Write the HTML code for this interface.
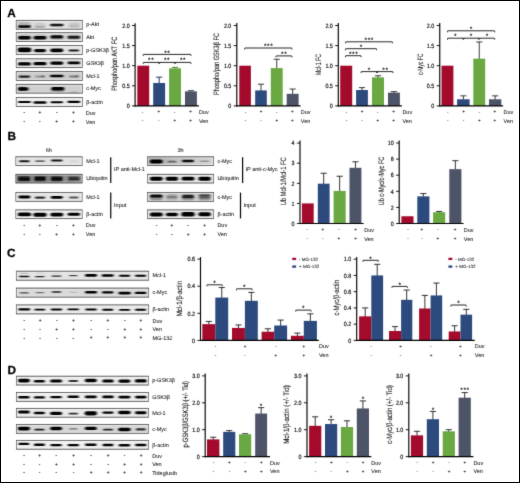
<!DOCTYPE html>
<html><head><meta charset="utf-8"><title>Figure</title>
<style>
html,body{margin:0;padding:0;background:#fff;}
body{width:520px;height:483px;overflow:hidden;}
svg{display:block;font-family:"Liberation Sans", sans-serif;text-rendering:geometricPrecision;}
</style></head><body>
<svg width="520" height="483" viewBox="0 0 520 483">
<defs>
<filter id="bl" x="-20%" y="-50%" width="140%" height="200%"><feGaussianBlur stdDeviation="1.1 0.55"/></filter>
<filter id="soft" x="0" y="0" width="100%" height="100%" color-interpolation-filters="sRGB"><feConvolveMatrix order="3" kernelMatrix="0.0113 0.0838 0.0113 0.0838 0.6196 0.0838 0.0113 0.0838 0.0113" divisor="1" edgeMode="none" preserveAlpha="false"/></filter>
</defs>
<rect x="0" y="0" width="520" height="483" fill="#fff"/>
<g filter="url(#soft)">
<text x="7.3" y="16.75" font-size="11.8" text-anchor="start" font-weight="bold" fill="#000" stroke="#000" stroke-width="0.25">A</text>
<text x="7.5" y="140.25" font-size="11.8" text-anchor="start" font-weight="bold" fill="#000" stroke="#000" stroke-width="0.25">B</text>
<text x="6.9" y="256.85" font-size="11.8" text-anchor="start" font-weight="bold" fill="#000" stroke="#000" stroke-width="0.25">C</text>
<text x="7.5" y="373.65" font-size="11.8" text-anchor="start" font-weight="bold" fill="#000" stroke="#000" stroke-width="0.25">D</text>
<clipPath id="ca1"><rect x="16.2" y="20.4" width="66.4" height="8.8"/></clipPath>
<g clip-path="url(#ca1)">
<linearGradient id="ga1" x1="0" y1="0" x2="1" y2="0"><stop offset="0" stop-color="#d4d4d4"/><stop offset="0.33" stop-color="#e2e2e2"/><stop offset="0.67" stop-color="#e6e6e6"/><stop offset="1" stop-color="#d8d8d8"/></linearGradient>
<rect x="16.2" y="20.4" width="66.4" height="8.8" fill="url(#ga1)" />
<g filter="url(#bl)">
<rect x="17.95" y="22.06" width="12.9" height="4.88" rx="2.44" fill="#000" opacity="0.16"/>
<rect x="17.95" y="25.25" width="12.9" height="2.7" rx="1.35" fill="#000" opacity="0.95"/>
<rect x="34.05" y="22.66" width="11.9" height="4.88" rx="2.44" fill="#000" opacity="0.1"/>
<rect x="34.8" y="26.1" width="10.4" height="1.8" rx="0.9" fill="#000" opacity="0.2"/>
<rect x="50.35" y="23.52" width="12.9" height="3.75" rx="1.88" fill="#000" opacity="0.12"/>
<rect x="50.1" y="23.8" width="13.4" height="2.4" rx="1.2" fill="#000" opacity="0.88"/>
<rect x="68.1" y="22.86" width="11.4" height="4.88" rx="2.44" fill="#000" opacity="0.1"/>
<rect x="69.1" y="25.55" width="9.4" height="1.5" rx="0.75" fill="#000" opacity="0.1"/>
</g>
<rect x="17.1" y="21.3" width="64.6" height="7" fill="none" stroke="#fff" stroke-width="0.9" opacity="0.55"/>
</g>
<rect x="16.2" y="20.4" width="66.4" height="8.8" fill="none" stroke="#5a5a5a" stroke-width="0.7"/>
<line x1="16" y1="20.4" x2="82.8" y2="20.4" stroke="#333" stroke-width="0.35" stroke-linecap="butt"/>
<line x1="16" y1="29.2" x2="82.8" y2="29.2" stroke="#333" stroke-width="0.35" stroke-linecap="butt"/>
<clipPath id="ca2"><rect x="16.2" y="32.7" width="66.4" height="8.8"/></clipPath>
<g clip-path="url(#ca2)">
<rect x="16.2" y="32.7" width="66.4" height="8.8" fill="#d6d6d6" />
<g filter="url(#bl)">
<rect x="17.7" y="34.77" width="13.4" height="5.25" rx="2.62" fill="#000" opacity="0.12"/>
<rect x="17.95" y="36" width="12.9" height="3.6" rx="1.8" fill="#000" opacity="0.98"/>
<rect x="33.3" y="34.77" width="13.4" height="5.25" rx="2.62" fill="#000" opacity="0.12"/>
<rect x="33.55" y="36" width="12.9" height="3.6" rx="1.8" fill="#000" opacity="0.98"/>
<rect x="50.1" y="34.77" width="13.4" height="5.25" rx="2.62" fill="#000" opacity="0.12"/>
<rect x="50.35" y="35.21" width="12.9" height="3.38" rx="1.69" fill="#000" opacity="0.95"/>
<rect x="67.1" y="34.77" width="13.4" height="5.25" rx="2.62" fill="#000" opacity="0.12"/>
<rect x="67.6" y="35.78" width="12.4" height="2.85" rx="1.42" fill="#000" opacity="0.85"/>
</g>
<rect x="17.1" y="33.6" width="64.6" height="7" fill="none" stroke="#fff" stroke-width="0.9" opacity="0.55"/>
</g>
<rect x="16.2" y="32.7" width="66.4" height="8.8" fill="none" stroke="#5a5a5a" stroke-width="0.7"/>
<line x1="16" y1="32.7" x2="82.8" y2="32.7" stroke="#333" stroke-width="0.35" stroke-linecap="butt"/>
<line x1="16" y1="41.5" x2="82.8" y2="41.5" stroke="#333" stroke-width="0.35" stroke-linecap="butt"/>
<clipPath id="ca3"><rect x="16.2" y="45.6" width="66.4" height="8.8"/></clipPath>
<g clip-path="url(#ca3)">
<rect x="16.2" y="45.6" width="66.4" height="8.8" fill="#e6e6e6" />
<g filter="url(#bl)">
<rect x="17.45" y="47.5" width="13.9" height="4.8" rx="2.4" fill="#000" opacity="1"/>
<rect x="34.05" y="48.91" width="11.9" height="3.38" rx="1.69" fill="#000" opacity="0.98"/>
<rect x="50.35" y="48.42" width="12.9" height="3.75" rx="1.88" fill="#000" opacity="1"/>
<rect x="68.6" y="49.62" width="10.4" height="1.95" rx="0.98" fill="#000" opacity="0.9"/>
</g>
<rect x="17.1" y="46.5" width="64.6" height="7" fill="none" stroke="#fff" stroke-width="0.9" opacity="0.55"/>
</g>
<rect x="16.2" y="45.6" width="66.4" height="8.8" fill="none" stroke="#5a5a5a" stroke-width="0.7"/>
<line x1="16" y1="45.6" x2="82.8" y2="45.6" stroke="#333" stroke-width="0.35" stroke-linecap="butt"/>
<line x1="16" y1="54.4" x2="82.8" y2="54.4" stroke="#333" stroke-width="0.35" stroke-linecap="butt"/>
<clipPath id="ca4"><rect x="16.2" y="58.8" width="66.4" height="8.8"/></clipPath>
<g clip-path="url(#ca4)">
<rect x="16.2" y="58.8" width="66.4" height="8.8" fill="#dedede" />
<g filter="url(#bl)">
<rect x="17.95" y="62.25" width="12.9" height="3.3" rx="1.65" fill="#000" opacity="1"/>
<rect x="33.55" y="62.05" width="12.9" height="3.3" rx="1.65" fill="#000" opacity="1"/>
<rect x="50.35" y="61.52" width="12.9" height="3.15" rx="1.58" fill="#000" opacity="1"/>
<rect x="67.6" y="61.55" width="12.4" height="2.7" rx="1.35" fill="#000" opacity="0.98"/>
</g>
<rect x="17.1" y="59.7" width="64.6" height="7" fill="none" stroke="#fff" stroke-width="0.9" opacity="0.55"/>
</g>
<rect x="16.2" y="58.8" width="66.4" height="8.8" fill="none" stroke="#5a5a5a" stroke-width="0.7"/>
<line x1="16" y1="58.8" x2="82.8" y2="58.8" stroke="#333" stroke-width="0.35" stroke-linecap="butt"/>
<line x1="16" y1="67.6" x2="82.8" y2="67.6" stroke="#333" stroke-width="0.35" stroke-linecap="butt"/>
<clipPath id="ca5"><rect x="16.2" y="71.6" width="66.4" height="8.8"/></clipPath>
<g clip-path="url(#ca5)">
<rect x="16.2" y="71.6" width="66.4" height="8.8" fill="#cccccc" />
<g filter="url(#bl)">
<rect x="18.7" y="75.47" width="11.4" height="2.25" rx="1.12" fill="#000" opacity="0.85"/>
<rect x="35.3" y="75.6" width="9.4" height="1.8" rx="0.9" fill="#000" opacity="0.3"/>
<rect x="41.3" y="75.5" width="3.4" height="1.8" rx="0.9" fill="#000" opacity="0.4"/>
<rect x="50.1" y="74.65" width="13.4" height="2.7" rx="1.35" fill="#000" opacity="0.98"/>
<rect x="69.1" y="75.43" width="9.4" height="1.95" rx="0.98" fill="#000" opacity="0.4"/>
<rect x="75.55" y="75.23" width="2.9" height="1.95" rx="0.98" fill="#000" opacity="0.35"/>
</g>
<rect x="17.1" y="72.5" width="64.6" height="7" fill="none" stroke="#fff" stroke-width="0.9" opacity="0.55"/>
</g>
<rect x="16.2" y="71.6" width="66.4" height="8.8" fill="none" stroke="#5a5a5a" stroke-width="0.7"/>
<line x1="16" y1="71.6" x2="82.8" y2="71.6" stroke="#333" stroke-width="0.35" stroke-linecap="butt"/>
<line x1="16" y1="80.4" x2="82.8" y2="80.4" stroke="#333" stroke-width="0.35" stroke-linecap="butt"/>
<clipPath id="ca6"><rect x="16.2" y="84.3" width="66.4" height="8.8"/></clipPath>
<g clip-path="url(#ca6)">
<rect x="16.2" y="84.3" width="66.4" height="8.8" fill="#d0d0d0" />
<g filter="url(#bl)">
<rect x="17.65" y="87.31" width="10.9" height="3.38" rx="1.69" fill="#000" opacity="1"/>
<rect x="18.2" y="86.64" width="7.4" height="4.12" rx="2.06" fill="#000" opacity="0.5"/>
<rect x="51.35" y="86.94" width="12.9" height="3.53" rx="1.76" fill="#000" opacity="1"/>
<rect x="50.6" y="87.06" width="14.4" height="4.88" rx="2.44" fill="#000" opacity="0.25"/>
<rect x="69.6" y="91.55" width="8.4" height="1.5" rx="0.75" fill="#000" opacity="0.22"/>
</g>
<rect x="17.1" y="85.2" width="64.6" height="7" fill="none" stroke="#fff" stroke-width="0.9" opacity="0.55"/>
</g>
<rect x="16.2" y="84.3" width="66.4" height="8.8" fill="none" stroke="#5a5a5a" stroke-width="0.7"/>
<line x1="16" y1="84.3" x2="82.8" y2="84.3" stroke="#333" stroke-width="0.35" stroke-linecap="butt"/>
<line x1="16" y1="93.1" x2="82.8" y2="93.1" stroke="#333" stroke-width="0.35" stroke-linecap="butt"/>
<clipPath id="ca7"><rect x="16.2" y="97.6" width="66.4" height="8.8"/></clipPath>
<g clip-path="url(#ca7)">
<rect x="16.2" y="97.6" width="66.4" height="8.8" fill="#f0f0f0" />
<g filter="url(#bl)">
<rect x="17.95" y="100.95" width="12.9" height="2.1" rx="1.05" fill="#000" opacity="1"/>
<rect x="33.55" y="101.3" width="12.9" height="2.4" rx="1.2" fill="#000" opacity="1"/>
<rect x="50.6" y="101.33" width="12.4" height="1.95" rx="0.98" fill="#000" opacity="1"/>
<rect x="67.35" y="100.71" width="12.9" height="2.17" rx="1.09" fill="#000" opacity="1"/>
</g>
<rect x="17.1" y="98.5" width="64.6" height="7" fill="none" stroke="#fff" stroke-width="0.9" opacity="0.55"/>
</g>
<rect x="16.2" y="97.6" width="66.4" height="8.8" fill="none" stroke="#5a5a5a" stroke-width="0.7"/>
<line x1="16" y1="97.6" x2="82.8" y2="97.6" stroke="#333" stroke-width="0.35" stroke-linecap="butt"/>
<line x1="16" y1="106.4" x2="82.8" y2="106.4" stroke="#333" stroke-width="0.35" stroke-linecap="butt"/>
<text x="86.2" y="26.38" font-size="5.5" text-anchor="start" font-weight="normal" fill="#111" stroke="#111" stroke-width="0.05">p-Akt</text>
<text x="86.2" y="38.68" font-size="5.5" text-anchor="start" font-weight="normal" fill="#111" stroke="#111" stroke-width="0.05">Akt</text>
<text x="86.2" y="51.58" font-size="5.5" text-anchor="start" font-weight="normal" fill="#111" stroke="#111" stroke-width="0.05">p-GSK3β</text>
<text x="86.2" y="64.78" font-size="5.5" text-anchor="start" font-weight="normal" fill="#111" stroke="#111" stroke-width="0.05">GSK3β</text>
<text x="86.2" y="77.58" font-size="5.5" text-anchor="start" font-weight="normal" fill="#111" stroke="#111" stroke-width="0.05">Mcl-1</text>
<text x="86.2" y="90.28" font-size="5.5" text-anchor="start" font-weight="normal" fill="#111" stroke="#111" stroke-width="0.05">c-Myc</text>
<text x="86.2" y="103.58" font-size="5.5" text-anchor="start" font-weight="normal" fill="#111" stroke="#111" stroke-width="0.05">β-actin</text>
<text x="24.4" y="114.27" font-size="4.7" text-anchor="middle" fill="#2a2a2a" stroke="#2a2a2a" stroke-width="0.14">-</text>
<text x="39.9" y="114.15" font-size="4.7" text-anchor="middle" fill="#2a2a2a" stroke="#2a2a2a" stroke-width="0.2">+</text>
<text x="56.7" y="114.27" font-size="4.7" text-anchor="middle" fill="#2a2a2a" stroke="#2a2a2a" stroke-width="0.14">-</text>
<text x="73.3" y="114.15" font-size="4.7" text-anchor="middle" fill="#2a2a2a" stroke="#2a2a2a" stroke-width="0.2">+</text>
<text x="85.8" y="114.78" font-size="5.5" text-anchor="start" font-weight="normal" fill="#111" stroke="#111" stroke-width="0.05">Duv</text>
<text x="24.4" y="123.17" font-size="4.7" text-anchor="middle" fill="#2a2a2a" stroke="#2a2a2a" stroke-width="0.14">-</text>
<text x="39.9" y="123.17" font-size="4.7" text-anchor="middle" fill="#2a2a2a" stroke="#2a2a2a" stroke-width="0.14">-</text>
<text x="56.7" y="123.05" font-size="4.7" text-anchor="middle" fill="#2a2a2a" stroke="#2a2a2a" stroke-width="0.2">+</text>
<text x="73.3" y="123.05" font-size="4.7" text-anchor="middle" fill="#2a2a2a" stroke="#2a2a2a" stroke-width="0.2">+</text>
<text x="85.8" y="123.68" font-size="5.5" text-anchor="start" font-weight="normal" fill="#111" stroke="#111" stroke-width="0.05">Ven</text>
<rect x="137.3" y="65.7" width="11.9" height="40.2" fill="#a40a2c" />
<line x1="159.15" y1="83.49" x2="159.15" y2="77.16" stroke="#243d6b" stroke-width="1.05" stroke-linecap="butt"/>
<line x1="156.05" y1="77.16" x2="162.25" y2="77.16" stroke="#243d6b" stroke-width="1.05" stroke-linecap="butt"/>
<rect x="153.2" y="82.99" width="11.9" height="22.91" fill="#2c4a7e" />
<line x1="175.05" y1="68.85" x2="175.05" y2="67.43" stroke="#528a30" stroke-width="1.05" stroke-linecap="butt"/>
<line x1="171.95" y1="67.43" x2="178.15" y2="67.43" stroke="#528a30" stroke-width="1.05" stroke-linecap="butt"/>
<rect x="169.1" y="68.35" width="11.9" height="37.55" fill="#6aa842" />
<line x1="190.95" y1="91.85" x2="190.95" y2="90.7" stroke="#3c4354" stroke-width="1.05" stroke-linecap="butt"/>
<line x1="187.85" y1="90.7" x2="194.05" y2="90.7" stroke="#3c4354" stroke-width="1.05" stroke-linecap="butt"/>
<rect x="185" y="91.35" width="11.9" height="14.55" fill="#4d5467" />
<line x1="135.1" y1="23.2" x2="135.1" y2="106.48" stroke="#000" stroke-width="1.15" stroke-linecap="butt"/>
<line x1="134.53" y1="105.9" x2="198.9" y2="105.9" stroke="#000" stroke-width="1.15" stroke-linecap="butt"/>
<line x1="132" y1="105.9" x2="135.1" y2="105.9" stroke="#000" stroke-width="0.9" stroke-linecap="butt"/>
<text transform="translate(129.6 108.13) scale(0.86 1)" x="0" y="0" font-size="6.2" text-anchor="end" font-weight="normal" fill="#000" stroke="#000" stroke-width="0.16">0</text>
<line x1="132" y1="85.8" x2="135.1" y2="85.8" stroke="#000" stroke-width="0.9" stroke-linecap="butt"/>
<text transform="translate(129.6 88.03) scale(0.86 1)" x="0" y="0" font-size="6.2" text-anchor="end" font-weight="normal" fill="#000" stroke="#000" stroke-width="0.16">0.5</text>
<line x1="132" y1="65.7" x2="135.1" y2="65.7" stroke="#000" stroke-width="0.9" stroke-linecap="butt"/>
<text transform="translate(129.6 67.93) scale(0.86 1)" x="0" y="0" font-size="6.2" text-anchor="end" font-weight="normal" fill="#000" stroke="#000" stroke-width="0.16">1.0</text>
<line x1="132" y1="45.6" x2="135.1" y2="45.6" stroke="#000" stroke-width="0.9" stroke-linecap="butt"/>
<text transform="translate(129.6 47.83) scale(0.86 1)" x="0" y="0" font-size="6.2" text-anchor="end" font-weight="normal" fill="#000" stroke="#000" stroke-width="0.16">1.5</text>
<line x1="132" y1="25.5" x2="135.1" y2="25.5" stroke="#000" stroke-width="0.9" stroke-linecap="butt"/>
<text transform="translate(129.6 27.73) scale(0.86 1)" x="0" y="0" font-size="6.2" text-anchor="end" font-weight="normal" fill="#000" stroke="#000" stroke-width="0.16">2.0</text>
<text transform="translate(114.4 63.8) rotate(-90)" x="0" y="2.81" font-size="7.8" text-anchor="middle" fill="#111" stroke="#111" stroke-width="0.08" textLength="54" lengthAdjust="spacingAndGlyphs">Phospho/pan AKT FC</text>
<path d="M143.2 55.9 L143.2 54.8 Q143.2 54.4 143.6 54.4 L190.5 54.4 Q190.9 54.4 190.9 54.8 L190.9 55.9" fill="none" stroke="#000" stroke-width="0.85"/>
<text x="167.35" y="54.75" font-size="6.5" letter-spacing="0.6" text-anchor="middle" fill="#000" stroke="#000" stroke-width="0.12">**</text>
<path d="M143.2 63.9 L143.2 62.8 Q143.2 62.4 143.6 62.4 L190.5 62.4 Q190.9 62.4 190.9 62.8 L190.9 63.9" fill="none" stroke="#000" stroke-width="0.85"/>
<path d="M158.1 62.4 L159.1 63.8 L160.1 62.4" fill="none" stroke="#000" stroke-width="0.8" stroke-linejoin="round"/>
<path d="M174 62.4 L175 63.8 L176 62.4" fill="none" stroke="#000" stroke-width="0.8" stroke-linejoin="round"/>
<text x="151.2" y="62.35" font-size="6.5" letter-spacing="0.6" text-anchor="middle" fill="#000" stroke="#000" stroke-width="0.12">**</text>
<text x="167.1" y="62.35" font-size="6.5" letter-spacing="0.6" text-anchor="middle" fill="#000" stroke="#000" stroke-width="0.12">**</text>
<text x="183.1" y="62.35" font-size="6.5" letter-spacing="0.6" text-anchor="middle" fill="#000" stroke="#000" stroke-width="0.12">**</text>
<text x="142.4" y="113.72" font-size="4.5" text-anchor="middle" fill="#333" stroke="#333" stroke-width="0.1">-</text>
<text x="158.8" y="113.28" font-size="4.5" text-anchor="middle" fill="#333" stroke="#333" stroke-width="0.14">+</text>
<text x="174.7" y="113.72" font-size="4.5" text-anchor="middle" fill="#333" stroke="#333" stroke-width="0.1">-</text>
<text x="190.6" y="113.28" font-size="4.5" text-anchor="middle" fill="#333" stroke="#333" stroke-width="0.14">+</text>
<text x="198.9" y="113.98" font-size="5.5" text-anchor="start" font-weight="normal" fill="#111" stroke="#111" stroke-width="0.05">Duv</text>
<text x="142.4" y="122.42" font-size="4.5" text-anchor="middle" fill="#333" stroke="#333" stroke-width="0.1">-</text>
<text x="158.8" y="122.42" font-size="4.5" text-anchor="middle" fill="#333" stroke="#333" stroke-width="0.1">-</text>
<text x="174.7" y="121.98" font-size="4.5" text-anchor="middle" fill="#333" stroke="#333" stroke-width="0.14">+</text>
<text x="190.6" y="121.98" font-size="4.5" text-anchor="middle" fill="#333" stroke="#333" stroke-width="0.14">+</text>
<text x="198.9" y="122.68" font-size="5.5" text-anchor="start" font-weight="normal" fill="#111" stroke="#111" stroke-width="0.05">Ven</text>
<rect x="239.3" y="65.7" width="11.6" height="40.2" fill="#a40a2c" />
<line x1="261" y1="90.92" x2="261" y2="84.19" stroke="#1a1a1a" stroke-width="0.85" stroke-linecap="butt"/>
<line x1="257.9" y1="84.19" x2="264.1" y2="84.19" stroke="#1a1a1a" stroke-width="0.85" stroke-linecap="butt"/>
<rect x="255.2" y="90.42" width="11.6" height="15.48" fill="#2c4a7e" />
<line x1="276.75" y1="68.61" x2="276.75" y2="59.27" stroke="#1a1a1a" stroke-width="0.85" stroke-linecap="butt"/>
<line x1="273.65" y1="59.27" x2="279.85" y2="59.27" stroke="#1a1a1a" stroke-width="0.85" stroke-linecap="butt"/>
<rect x="270.8" y="68.11" width="11.9" height="37.79" fill="#6aa842" />
<line x1="292.65" y1="94.34" x2="292.65" y2="89.02" stroke="#1a1a1a" stroke-width="0.85" stroke-linecap="butt"/>
<line x1="289.55" y1="89.02" x2="295.75" y2="89.02" stroke="#1a1a1a" stroke-width="0.85" stroke-linecap="butt"/>
<rect x="286.7" y="93.84" width="11.9" height="12.06" fill="#4d5467" />
<line x1="236.8" y1="22.9" x2="236.8" y2="106.48" stroke="#000" stroke-width="1.15" stroke-linecap="butt"/>
<line x1="236.23" y1="105.9" x2="300.6" y2="105.9" stroke="#000" stroke-width="1.15" stroke-linecap="butt"/>
<line x1="233.7" y1="105.9" x2="236.8" y2="105.9" stroke="#000" stroke-width="0.9" stroke-linecap="butt"/>
<text transform="translate(231.3 108.13) scale(0.86 1)" x="0" y="0" font-size="6.2" text-anchor="end" font-weight="normal" fill="#000" stroke="#000" stroke-width="0.16">0</text>
<line x1="233.7" y1="85.8" x2="236.8" y2="85.8" stroke="#000" stroke-width="0.9" stroke-linecap="butt"/>
<text transform="translate(231.3 88.03) scale(0.86 1)" x="0" y="0" font-size="6.2" text-anchor="end" font-weight="normal" fill="#000" stroke="#000" stroke-width="0.16">0.5</text>
<line x1="233.7" y1="65.7" x2="236.8" y2="65.7" stroke="#000" stroke-width="0.9" stroke-linecap="butt"/>
<text transform="translate(231.3 67.93) scale(0.86 1)" x="0" y="0" font-size="6.2" text-anchor="end" font-weight="normal" fill="#000" stroke="#000" stroke-width="0.16">1.0</text>
<line x1="233.7" y1="45.6" x2="236.8" y2="45.6" stroke="#000" stroke-width="0.9" stroke-linecap="butt"/>
<text transform="translate(231.3 47.83) scale(0.86 1)" x="0" y="0" font-size="6.2" text-anchor="end" font-weight="normal" fill="#000" stroke="#000" stroke-width="0.16">1.5</text>
<line x1="233.7" y1="25.5" x2="236.8" y2="25.5" stroke="#000" stroke-width="0.9" stroke-linecap="butt"/>
<text transform="translate(231.3 27.73) scale(0.86 1)" x="0" y="0" font-size="6.2" text-anchor="end" font-weight="normal" fill="#000" stroke="#000" stroke-width="0.16">2.0</text>
<text transform="translate(216.1 64) rotate(-90)" x="0" y="2.81" font-size="7.8" text-anchor="middle" fill="#111" stroke="#111" stroke-width="0.08" textLength="62" lengthAdjust="spacingAndGlyphs">Phospho/pan GSK3β FC</text>
<path d="M244.7 49.5 L244.7 48.4 Q244.7 48 245.1 48 L291.5 48 Q291.9 48 291.9 48.4 L291.9 49.5" fill="none" stroke="#000" stroke-width="0.85"/>
<text x="268.6" y="48.35" font-size="6.5" letter-spacing="0.6" text-anchor="middle" fill="#000" stroke="#000" stroke-width="0.12">***</text>
<path d="M276 57.4 L276 56.3 Q276 55.9 276.4 55.9 L291.5 55.9 Q291.9 55.9 291.9 56.3 L291.9 57.4" fill="none" stroke="#000" stroke-width="0.85"/>
<text x="284.25" y="56.25" font-size="6.5" letter-spacing="0.6" text-anchor="middle" fill="#000" stroke="#000" stroke-width="0.12">**</text>
<text x="245.4" y="113.72" font-size="4.5" text-anchor="middle" fill="#333" stroke="#333" stroke-width="0.1">-</text>
<text x="261.1" y="113.28" font-size="4.5" text-anchor="middle" fill="#333" stroke="#333" stroke-width="0.14">+</text>
<text x="276.7" y="113.72" font-size="4.5" text-anchor="middle" fill="#333" stroke="#333" stroke-width="0.1">-</text>
<text x="292.4" y="113.28" font-size="4.5" text-anchor="middle" fill="#333" stroke="#333" stroke-width="0.14">+</text>
<text x="300.8" y="113.98" font-size="5.5" text-anchor="start" font-weight="normal" fill="#111" stroke="#111" stroke-width="0.05">Duv</text>
<text x="245.4" y="122.42" font-size="4.5" text-anchor="middle" fill="#333" stroke="#333" stroke-width="0.1">-</text>
<text x="261.1" y="122.42" font-size="4.5" text-anchor="middle" fill="#333" stroke="#333" stroke-width="0.1">-</text>
<text x="276.7" y="121.98" font-size="4.5" text-anchor="middle" fill="#333" stroke="#333" stroke-width="0.14">+</text>
<text x="292.4" y="121.98" font-size="4.5" text-anchor="middle" fill="#333" stroke="#333" stroke-width="0.14">+</text>
<text x="300.8" y="122.68" font-size="5.5" text-anchor="start" font-weight="normal" fill="#111" stroke="#111" stroke-width="0.05">Ven</text>
<rect x="340.2" y="65.7" width="12" height="40.2" fill="#a40a2c" />
<line x1="362" y1="90.52" x2="362" y2="87.61" stroke="#1a1a1a" stroke-width="0.85" stroke-linecap="butt"/>
<line x1="358.9" y1="87.61" x2="365.1" y2="87.61" stroke="#1a1a1a" stroke-width="0.85" stroke-linecap="butt"/>
<rect x="356.1" y="90.02" width="11.8" height="15.88" fill="#2c4a7e" />
<line x1="378" y1="77.86" x2="378" y2="75.75" stroke="#1a1a1a" stroke-width="0.85" stroke-linecap="butt"/>
<line x1="374.9" y1="75.75" x2="381.1" y2="75.75" stroke="#1a1a1a" stroke-width="0.85" stroke-linecap="butt"/>
<rect x="372" y="77.36" width="12" height="28.54" fill="#6aa842" />
<line x1="393.95" y1="93.13" x2="393.95" y2="91.63" stroke="#1a1a1a" stroke-width="0.85" stroke-linecap="butt"/>
<line x1="390.85" y1="91.63" x2="397.05" y2="91.63" stroke="#1a1a1a" stroke-width="0.85" stroke-linecap="butt"/>
<rect x="388" y="92.63" width="11.9" height="13.27" fill="#4d5467" />
<line x1="338.3" y1="22.9" x2="338.3" y2="106.48" stroke="#000" stroke-width="1.15" stroke-linecap="butt"/>
<line x1="337.73" y1="105.9" x2="401.9" y2="105.9" stroke="#000" stroke-width="1.15" stroke-linecap="butt"/>
<line x1="335.2" y1="105.9" x2="338.3" y2="105.9" stroke="#000" stroke-width="0.9" stroke-linecap="butt"/>
<text transform="translate(332.8 108.13) scale(0.86 1)" x="0" y="0" font-size="6.2" text-anchor="end" font-weight="normal" fill="#000" stroke="#000" stroke-width="0.16">0</text>
<line x1="335.2" y1="85.8" x2="338.3" y2="85.8" stroke="#000" stroke-width="0.9" stroke-linecap="butt"/>
<text transform="translate(332.8 88.03) scale(0.86 1)" x="0" y="0" font-size="6.2" text-anchor="end" font-weight="normal" fill="#000" stroke="#000" stroke-width="0.16">0.5</text>
<line x1="335.2" y1="65.7" x2="338.3" y2="65.7" stroke="#000" stroke-width="0.9" stroke-linecap="butt"/>
<text transform="translate(332.8 67.93) scale(0.86 1)" x="0" y="0" font-size="6.2" text-anchor="end" font-weight="normal" fill="#000" stroke="#000" stroke-width="0.16">1.0</text>
<line x1="335.2" y1="45.6" x2="338.3" y2="45.6" stroke="#000" stroke-width="0.9" stroke-linecap="butt"/>
<text transform="translate(332.8 47.83) scale(0.86 1)" x="0" y="0" font-size="6.2" text-anchor="end" font-weight="normal" fill="#000" stroke="#000" stroke-width="0.16">1.5</text>
<line x1="335.2" y1="25.5" x2="338.3" y2="25.5" stroke="#000" stroke-width="0.9" stroke-linecap="butt"/>
<text transform="translate(332.8 27.73) scale(0.86 1)" x="0" y="0" font-size="6.2" text-anchor="end" font-weight="normal" fill="#000" stroke="#000" stroke-width="0.16">2.0</text>
<text transform="translate(317.9 64.6) rotate(-90)" x="0" y="2.81" font-size="7.8" text-anchor="middle" fill="#111" stroke="#111" stroke-width="0.08" textLength="21" lengthAdjust="spacingAndGlyphs">Mcl-1 FC</text>
<path d="M345.5 43.3 L345.5 42.2 Q345.5 41.8 345.9 41.8 L392 41.8 Q392.4 41.8 392.4 42.2 L392.4 43.3" fill="none" stroke="#000" stroke-width="0.85"/>
<text x="369.25" y="42.15" font-size="6.5" letter-spacing="0.6" text-anchor="middle" fill="#000" stroke="#000" stroke-width="0.12">***</text>
<path d="M345.5 50.2 L345.5 49.1 Q345.5 48.7 345.9 48.7 L376.1 48.7 Q376.5 48.7 376.5 49.1 L376.5 50.2" fill="none" stroke="#000" stroke-width="0.85"/>
<text x="361.3" y="49.05" font-size="6.5" letter-spacing="0.6" text-anchor="middle" fill="#000" stroke="#000" stroke-width="0.12">*</text>
<path d="M345.5 57.2 L345.5 56.1 Q345.5 55.7 345.9 55.7 L360.7 55.7 Q361.1 55.7 361.1 56.1 L361.1 57.2" fill="none" stroke="#000" stroke-width="0.85"/>
<text x="353.6" y="56.05" font-size="6.5" letter-spacing="0.6" text-anchor="middle" fill="#000" stroke="#000" stroke-width="0.12">***</text>
<path d="M361.1 73.1 L361.1 72 Q361.1 71.6 361.5 71.6 L392.5 71.6 Q392.9 71.6 392.9 72 L392.9 73.1" fill="none" stroke="#000" stroke-width="0.85"/>
<path d="M376 71.6 L377 73 L378 71.6" fill="none" stroke="#000" stroke-width="0.8" stroke-linejoin="round"/>
<text x="369.3" y="71.55" font-size="6.5" letter-spacing="0.6" text-anchor="middle" fill="#000" stroke="#000" stroke-width="0.12">*</text>
<text x="385.5" y="71.55" font-size="6.5" letter-spacing="0.6" text-anchor="middle" fill="#000" stroke="#000" stroke-width="0.12">**</text>
<text x="346.4" y="113.72" font-size="4.5" text-anchor="middle" fill="#333" stroke="#333" stroke-width="0.1">-</text>
<text x="362.1" y="113.28" font-size="4.5" text-anchor="middle" fill="#333" stroke="#333" stroke-width="0.14">+</text>
<text x="377.7" y="113.72" font-size="4.5" text-anchor="middle" fill="#333" stroke="#333" stroke-width="0.1">-</text>
<text x="393.6" y="113.28" font-size="4.5" text-anchor="middle" fill="#333" stroke="#333" stroke-width="0.14">+</text>
<text x="402.4" y="113.98" font-size="5.5" text-anchor="start" font-weight="normal" fill="#111" stroke="#111" stroke-width="0.05">Duv</text>
<text x="346.4" y="122.42" font-size="4.5" text-anchor="middle" fill="#333" stroke="#333" stroke-width="0.1">-</text>
<text x="362.1" y="122.42" font-size="4.5" text-anchor="middle" fill="#333" stroke="#333" stroke-width="0.1">-</text>
<text x="377.7" y="121.98" font-size="4.5" text-anchor="middle" fill="#333" stroke="#333" stroke-width="0.14">+</text>
<text x="393.6" y="121.98" font-size="4.5" text-anchor="middle" fill="#333" stroke="#333" stroke-width="0.14">+</text>
<text x="402.4" y="122.68" font-size="5.5" text-anchor="start" font-weight="normal" fill="#111" stroke="#111" stroke-width="0.05">Ven</text>
<rect x="441.5" y="65.7" width="11.9" height="40.2" fill="#a40a2c" />
<line x1="463.35" y1="99.77" x2="463.35" y2="95.85" stroke="#1a1a1a" stroke-width="0.85" stroke-linecap="butt"/>
<line x1="460.25" y1="95.85" x2="466.45" y2="95.85" stroke="#1a1a1a" stroke-width="0.85" stroke-linecap="butt"/>
<rect x="457.1" y="99.27" width="12.5" height="6.63" fill="#2c4a7e" />
<line x1="479.25" y1="59.16" x2="479.25" y2="41.98" stroke="#1a1a1a" stroke-width="0.85" stroke-linecap="butt"/>
<line x1="476.15" y1="41.98" x2="482.35" y2="41.98" stroke="#1a1a1a" stroke-width="0.85" stroke-linecap="butt"/>
<rect x="473.3" y="58.66" width="11.9" height="47.24" fill="#6aa842" />
<line x1="495.15" y1="99.77" x2="495.15" y2="95.85" stroke="#1a1a1a" stroke-width="0.85" stroke-linecap="butt"/>
<line x1="492.05" y1="95.85" x2="498.25" y2="95.85" stroke="#1a1a1a" stroke-width="0.85" stroke-linecap="butt"/>
<rect x="489" y="99.27" width="12.3" height="6.63" fill="#4d5467" />
<line x1="439.75" y1="22.9" x2="439.75" y2="106.48" stroke="#000" stroke-width="1.15" stroke-linecap="butt"/>
<line x1="439.18" y1="105.9" x2="503.1" y2="105.9" stroke="#000" stroke-width="1.15" stroke-linecap="butt"/>
<line x1="436.65" y1="105.9" x2="439.75" y2="105.9" stroke="#000" stroke-width="0.9" stroke-linecap="butt"/>
<text transform="translate(434.25 108.13) scale(0.86 1)" x="0" y="0" font-size="6.2" text-anchor="end" font-weight="normal" fill="#000" stroke="#000" stroke-width="0.16">0</text>
<line x1="436.65" y1="85.8" x2="439.75" y2="85.8" stroke="#000" stroke-width="0.9" stroke-linecap="butt"/>
<text transform="translate(434.25 88.03) scale(0.86 1)" x="0" y="0" font-size="6.2" text-anchor="end" font-weight="normal" fill="#000" stroke="#000" stroke-width="0.16">0.5</text>
<line x1="436.65" y1="65.7" x2="439.75" y2="65.7" stroke="#000" stroke-width="0.9" stroke-linecap="butt"/>
<text transform="translate(434.25 67.93) scale(0.86 1)" x="0" y="0" font-size="6.2" text-anchor="end" font-weight="normal" fill="#000" stroke="#000" stroke-width="0.16">1.0</text>
<line x1="436.65" y1="45.6" x2="439.75" y2="45.6" stroke="#000" stroke-width="0.9" stroke-linecap="butt"/>
<text transform="translate(434.25 47.83) scale(0.86 1)" x="0" y="0" font-size="6.2" text-anchor="end" font-weight="normal" fill="#000" stroke="#000" stroke-width="0.16">1.5</text>
<line x1="436.65" y1="25.5" x2="439.75" y2="25.5" stroke="#000" stroke-width="0.9" stroke-linecap="butt"/>
<text transform="translate(434.25 27.73) scale(0.86 1)" x="0" y="0" font-size="6.2" text-anchor="end" font-weight="normal" fill="#000" stroke="#000" stroke-width="0.16">2.0</text>
<text transform="translate(419.9 64.3) rotate(-90)" x="0" y="2.81" font-size="7.8" text-anchor="middle" fill="#111" stroke="#111" stroke-width="0.08" textLength="21.5" lengthAdjust="spacingAndGlyphs">c-Myc FC</text>
<path d="M447.5 32.3 L447.5 31.2 Q447.5 30.8 447.9 30.8 L494.3 30.8 Q494.7 30.8 494.7 31.2 L494.7 32.3" fill="none" stroke="#000" stroke-width="0.85"/>
<text x="471.4" y="31.15" font-size="6.5" letter-spacing="0.6" text-anchor="middle" fill="#000" stroke="#000" stroke-width="0.12">*</text>
<path d="M447.5 39.7 L447.5 38.6 Q447.5 38.2 447.9 38.2 L494.3 38.2 Q494.7 38.2 494.7 38.6 L494.7 39.7" fill="none" stroke="#000" stroke-width="0.85"/>
<path d="M462.4 38.2 L463.4 39.6 L464.4 38.2" fill="none" stroke="#000" stroke-width="0.8" stroke-linejoin="round"/>
<path d="M478 38.2 L479 39.6 L480 38.2" fill="none" stroke="#000" stroke-width="0.8" stroke-linejoin="round"/>
<text x="455.5" y="38.15" font-size="6.5" letter-spacing="0.6" text-anchor="middle" fill="#000" stroke="#000" stroke-width="0.12">*</text>
<text x="471.3" y="38.15" font-size="6.5" letter-spacing="0.6" text-anchor="middle" fill="#000" stroke="#000" stroke-width="0.12">*</text>
<text x="487.3" y="38.15" font-size="6.5" letter-spacing="0.6" text-anchor="middle" fill="#000" stroke="#000" stroke-width="0.12">*</text>
<text x="447.7" y="113.72" font-size="4.5" text-anchor="middle" fill="#333" stroke="#333" stroke-width="0.1">-</text>
<text x="463.6" y="113.28" font-size="4.5" text-anchor="middle" fill="#333" stroke="#333" stroke-width="0.14">+</text>
<text x="479.2" y="113.72" font-size="4.5" text-anchor="middle" fill="#333" stroke="#333" stroke-width="0.1">-</text>
<text x="494.9" y="113.28" font-size="4.5" text-anchor="middle" fill="#333" stroke="#333" stroke-width="0.14">+</text>
<text x="503.6" y="113.98" font-size="5.5" text-anchor="start" font-weight="normal" fill="#111" stroke="#111" stroke-width="0.05">Duv</text>
<text x="447.7" y="122.42" font-size="4.5" text-anchor="middle" fill="#333" stroke="#333" stroke-width="0.1">-</text>
<text x="463.6" y="122.42" font-size="4.5" text-anchor="middle" fill="#333" stroke="#333" stroke-width="0.1">-</text>
<text x="479.2" y="121.98" font-size="4.5" text-anchor="middle" fill="#333" stroke="#333" stroke-width="0.14">+</text>
<text x="494.9" y="121.98" font-size="4.5" text-anchor="middle" fill="#333" stroke="#333" stroke-width="0.14">+</text>
<text x="503.6" y="122.68" font-size="5.5" text-anchor="start" font-weight="normal" fill="#111" stroke="#111" stroke-width="0.05">Ven</text>
<text x="48.7" y="151.98" font-size="5.5" text-anchor="middle" font-weight="normal" fill="#111" stroke="#111" stroke-width="0.05">6h</text>
<text x="180.6" y="151.98" font-size="5.5" text-anchor="middle" font-weight="normal" fill="#111" stroke="#111" stroke-width="0.05">3h</text>
<clipPath id="cb1"><rect x="15.8" y="156.8" width="66.4" height="8.7"/></clipPath>
<g clip-path="url(#cb1)">
<rect x="15.8" y="156.8" width="66.4" height="8.7" fill="#e2e2e2" />
<g filter="url(#bl)">
<rect x="19.2" y="160.13" width="10.4" height="2.04" rx="1.02" fill="#000" opacity="0.9"/>
<rect x="35.3" y="160.22" width="9.4" height="1.87" rx="0.94" fill="#000" opacity="0.55"/>
<rect x="51.1" y="159.43" width="11.4" height="2.04" rx="1.02" fill="#000" opacity="0.92"/>
<rect x="69.6" y="160.59" width="8.4" height="1.53" rx="0.77" fill="#000" opacity="0.07"/>
</g>
<rect x="16.7" y="157.7" width="64.6" height="6.9" fill="none" stroke="#fff" stroke-width="0.9" opacity="0.55"/>
</g>
<rect x="15.8" y="156.8" width="66.4" height="8.7" fill="none" stroke="#5a5a5a" stroke-width="0.7"/>
<line x1="15.6" y1="156.8" x2="82.4" y2="156.8" stroke="#333" stroke-width="0.35" stroke-linecap="butt"/>
<line x1="15.6" y1="165.5" x2="82.4" y2="165.5" stroke="#333" stroke-width="0.35" stroke-linecap="butt"/>
<clipPath id="cb2"><rect x="15.8" y="174.3" width="66.4" height="8.7"/></clipPath>
<g clip-path="url(#cb2)">
<linearGradient id="gb2" x1="0" y1="0" x2="1" y2="0"><stop offset="0" stop-color="#6a6a6a"/><stop offset="0.5" stop-color="#707070"/><stop offset="1" stop-color="#8c8c8c"/></linearGradient>
<rect x="15.8" y="174.3" width="66.4" height="8.7" fill="url(#gb2)" />
<g filter="url(#bl)">
<rect x="17.95" y="175.89" width="12.9" height="5.52" rx="2.76" fill="#000" opacity="0.45"/>
<rect x="18.45" y="177.51" width="11.9" height="2.89" rx="1.44" fill="#000" opacity="0.85"/>
<rect x="33.55" y="175.89" width="12.9" height="5.52" rx="2.76" fill="#000" opacity="0.45"/>
<rect x="34.05" y="177.03" width="11.9" height="3.23" rx="1.61" fill="#000" opacity="0.85"/>
<rect x="50.35" y="175.89" width="12.9" height="5.52" rx="2.76" fill="#000" opacity="0.45"/>
<rect x="50.85" y="177.32" width="11.9" height="3.06" rx="1.53" fill="#000" opacity="0.85"/>
<rect x="67.85" y="176.1" width="11.9" height="5.1" rx="2.55" fill="#000" opacity="0.25"/>
<rect x="68.35" y="177.29" width="10.9" height="2.72" rx="1.36" fill="#000" opacity="0.55"/>
<rect x="31.3" y="173.65" width="1.8" height="10" rx="5" fill="#fff" opacity="0.22"/>
<rect x="47.5" y="173.65" width="1.8" height="10" rx="5" fill="#fff" opacity="0.22"/>
<rect x="64.4" y="173.65" width="1.8" height="10" rx="5" fill="#fff" opacity="0.22"/>
</g>
<rect x="16.7" y="175.2" width="64.6" height="6.9" fill="none" stroke="#fff" stroke-width="0.9" opacity="0.55"/>
</g>
<rect x="15.8" y="174.3" width="66.4" height="8.7" fill="none" stroke="#5a5a5a" stroke-width="0.7"/>
<line x1="15.6" y1="174.3" x2="82.4" y2="174.3" stroke="#333" stroke-width="0.35" stroke-linecap="butt"/>
<line x1="15.6" y1="183" x2="82.4" y2="183" stroke="#333" stroke-width="0.35" stroke-linecap="butt"/>
<clipPath id="cb3"><rect x="15.8" y="192.6" width="66.4" height="8.7"/></clipPath>
<g clip-path="url(#cb3)">
<rect x="15.8" y="192.6" width="66.4" height="8.7" fill="#e6e6e6" />
<g filter="url(#bl)">
<rect x="18.45" y="195.5" width="11.9" height="2.89" rx="1.44" fill="#000" opacity="1"/>
<rect x="34.8" y="196.44" width="10.4" height="2.21" rx="1.1" fill="#000" opacity="0.8"/>
<rect x="50.85" y="195.99" width="11.9" height="2.72" rx="1.36" fill="#000" opacity="1"/>
<rect x="69.1" y="196.53" width="9.4" height="2.04" rx="1.02" fill="#000" opacity="0.65"/>
</g>
<rect x="16.7" y="193.5" width="64.6" height="6.9" fill="none" stroke="#fff" stroke-width="0.9" opacity="0.55"/>
</g>
<rect x="15.8" y="192.6" width="66.4" height="8.7" fill="none" stroke="#5a5a5a" stroke-width="0.7"/>
<line x1="15.6" y1="192.6" x2="82.4" y2="192.6" stroke="#333" stroke-width="0.35" stroke-linecap="butt"/>
<line x1="15.6" y1="201.3" x2="82.4" y2="201.3" stroke="#333" stroke-width="0.35" stroke-linecap="butt"/>
<clipPath id="cb4"><rect x="15.8" y="209.9" width="66.4" height="8.7"/></clipPath>
<g clip-path="url(#cb4)">
<rect x="15.8" y="209.9" width="66.4" height="8.7" fill="#ececec" />
<g filter="url(#bl)">
<rect x="17.7" y="212.58" width="13.4" height="3.74" rx="1.87" fill="#000" opacity="1"/>
<rect x="33.3" y="212.79" width="13.4" height="3.91" rx="1.95" fill="#000" opacity="1"/>
<rect x="50.35" y="212.68" width="12.9" height="3.74" rx="1.87" fill="#000" opacity="1"/>
<rect x="67.6" y="212.63" width="12.4" height="3.23" rx="1.61" fill="#000" opacity="1"/>
</g>
<rect x="16.7" y="210.8" width="64.6" height="6.9" fill="none" stroke="#fff" stroke-width="0.9" opacity="0.55"/>
</g>
<rect x="15.8" y="209.9" width="66.4" height="8.7" fill="none" stroke="#5a5a5a" stroke-width="0.7"/>
<line x1="15.6" y1="209.9" x2="82.4" y2="209.9" stroke="#333" stroke-width="0.35" stroke-linecap="butt"/>
<line x1="15.6" y1="218.6" x2="82.4" y2="218.6" stroke="#333" stroke-width="0.35" stroke-linecap="butt"/>
<text x="86.2" y="162.83" font-size="5.5" text-anchor="start" font-weight="normal" fill="#111" stroke="#111" stroke-width="0.05">Mcl-1</text>
<text x="86.2" y="180.33" font-size="5.5" text-anchor="start" font-weight="normal" fill="#111" stroke="#111" stroke-width="0.05">Ubiquitin</text>
<text x="86.2" y="198.63" font-size="5.5" text-anchor="start" font-weight="normal" fill="#111" stroke="#111" stroke-width="0.05">Mcl-1</text>
<text x="86.2" y="215.93" font-size="5.5" text-anchor="start" font-weight="normal" fill="#111" stroke="#111" stroke-width="0.05">β-actin</text>
<line x1="110.75" y1="157.2" x2="110.75" y2="182.9" stroke="#000" stroke-width="1.2" stroke-linecap="butt"/>
<line x1="110.75" y1="192.6" x2="110.75" y2="218.4" stroke="#000" stroke-width="1.2" stroke-linecap="butt"/>
<text x="114.1" y="171.38" font-size="5.5" text-anchor="start" font-weight="normal" fill="#111" stroke="#111" stroke-width="0.05">IP anti-Mcl-1</text>
<text x="114.1" y="207.18" font-size="5.5" text-anchor="start" font-weight="normal" fill="#111" stroke="#111" stroke-width="0.05">Input</text>
<text x="24.4" y="226.77" font-size="4.7" text-anchor="middle" fill="#2a2a2a" stroke="#2a2a2a" stroke-width="0.14">-</text>
<text x="39.8" y="226.65" font-size="4.7" text-anchor="middle" fill="#2a2a2a" stroke="#2a2a2a" stroke-width="0.2">+</text>
<text x="56.7" y="226.77" font-size="4.7" text-anchor="middle" fill="#2a2a2a" stroke="#2a2a2a" stroke-width="0.14">-</text>
<text x="73.4" y="226.65" font-size="4.7" text-anchor="middle" fill="#2a2a2a" stroke="#2a2a2a" stroke-width="0.2">+</text>
<text x="85.8" y="227.28" font-size="5.5" text-anchor="start" font-weight="normal" fill="#111" stroke="#111" stroke-width="0.05">Duv</text>
<text x="24.4" y="235.67" font-size="4.7" text-anchor="middle" fill="#2a2a2a" stroke="#2a2a2a" stroke-width="0.14">-</text>
<text x="39.8" y="235.67" font-size="4.7" text-anchor="middle" fill="#2a2a2a" stroke="#2a2a2a" stroke-width="0.14">-</text>
<text x="56.7" y="235.55" font-size="4.7" text-anchor="middle" fill="#2a2a2a" stroke="#2a2a2a" stroke-width="0.2">+</text>
<text x="73.4" y="235.55" font-size="4.7" text-anchor="middle" fill="#2a2a2a" stroke="#2a2a2a" stroke-width="0.2">+</text>
<text x="85.8" y="236.18" font-size="5.5" text-anchor="start" font-weight="normal" fill="#111" stroke="#111" stroke-width="0.05">Ven</text>
<clipPath id="cb5"><rect x="147.5" y="156.8" width="66.2" height="8.7"/></clipPath>
<g clip-path="url(#cb5)">
<linearGradient id="gb5" x1="0" y1="0" x2="1" y2="0"><stop offset="0" stop-color="#a8a8a8"/><stop offset="0.33" stop-color="#bcbcbc"/><stop offset="0.67" stop-color="#cccccc"/><stop offset="1" stop-color="#d4d4d4"/></linearGradient>
<rect x="147.5" y="156.8" width="66.2" height="8.7" fill="url(#gb5)" />
<g filter="url(#bl)">
<rect x="149.85" y="159.51" width="12.9" height="4.08" rx="2.04" fill="#000" opacity="1"/>
<rect x="167.45" y="160.7" width="8.9" height="1.7" rx="0.85" fill="#000" opacity="0.5"/>
<rect x="182.05" y="159.76" width="11.9" height="2.38" rx="1.19" fill="#000" opacity="0.95"/>
<rect x="199.9" y="160.39" width="9.4" height="1.53" rx="0.77" fill="#000" opacity="0.3"/>
</g>
<rect x="148.4" y="157.7" width="64.4" height="6.9" fill="none" stroke="#fff" stroke-width="0.9" opacity="0.55"/>
</g>
<rect x="147.5" y="156.8" width="66.2" height="8.7" fill="none" stroke="#5a5a5a" stroke-width="0.7"/>
<line x1="147.3" y1="156.8" x2="213.9" y2="156.8" stroke="#333" stroke-width="0.35" stroke-linecap="butt"/>
<line x1="147.3" y1="165.5" x2="213.9" y2="165.5" stroke="#333" stroke-width="0.35" stroke-linecap="butt"/>
<clipPath id="cb6"><rect x="147.5" y="174.3" width="66.2" height="8.7"/></clipPath>
<g clip-path="url(#cb6)">
<rect x="147.5" y="174.3" width="66.2" height="8.7" fill="#e4e4e4" />
<g filter="url(#bl)">
<rect x="149.85" y="176.85" width="12.9" height="4" rx="2" fill="#000" opacity="1"/>
<rect x="165.7" y="176.85" width="12.4" height="4" rx="2" fill="#000" opacity="1"/>
<rect x="181.55" y="176.74" width="12.9" height="3.82" rx="1.91" fill="#000" opacity="1"/>
<rect x="198.4" y="176.85" width="12.4" height="4" rx="2" fill="#000" opacity="1"/>
</g>
<rect x="148.4" y="175.2" width="64.4" height="6.9" fill="none" stroke="#fff" stroke-width="0.9" opacity="0.55"/>
</g>
<rect x="147.5" y="174.3" width="66.2" height="8.7" fill="none" stroke="#5a5a5a" stroke-width="0.7"/>
<line x1="147.3" y1="174.3" x2="213.9" y2="174.3" stroke="#333" stroke-width="0.35" stroke-linecap="butt"/>
<line x1="147.3" y1="183" x2="213.9" y2="183" stroke="#333" stroke-width="0.35" stroke-linecap="butt"/>
<clipPath id="cb7"><rect x="147.5" y="192.6" width="66.2" height="8.7"/></clipPath>
<g clip-path="url(#cb7)">
<rect x="147.5" y="192.6" width="66.2" height="8.7" fill="#cecece" />
<g filter="url(#bl)">
<rect x="149.85" y="193.85" width="12.9" height="6.8" rx="3.4" fill="#000" opacity="0.3"/>
<rect x="150.1" y="194.7" width="12.4" height="2.89" rx="1.44" fill="#000" opacity="0.95"/>
<rect x="165.95" y="193.85" width="11.9" height="6.8" rx="3.4" fill="#000" opacity="0.14"/>
<rect x="166.7" y="195.67" width="10.4" height="2.55" rx="1.27" fill="#000" opacity="0.3"/>
<rect x="181.55" y="193.85" width="12.9" height="6.8" rx="3.4" fill="#000" opacity="0.28"/>
<rect x="182.05" y="195.03" width="11.9" height="3.23" rx="1.61" fill="#000" opacity="0.8"/>
<rect x="198.4" y="193.85" width="12.4" height="6.8" rx="3.4" fill="#000" opacity="0.28"/>
<rect x="198.9" y="194.53" width="11.4" height="2.04" rx="1.02" fill="#000" opacity="0.55"/>
<rect x="199.4" y="196.61" width="10.4" height="1.87" rx="0.94" fill="#000" opacity="0.4"/>
</g>
<rect x="148.4" y="193.5" width="64.4" height="6.9" fill="none" stroke="#fff" stroke-width="0.9" opacity="0.55"/>
</g>
<rect x="147.5" y="192.6" width="66.2" height="8.7" fill="none" stroke="#5a5a5a" stroke-width="0.7"/>
<line x1="147.3" y1="192.6" x2="213.9" y2="192.6" stroke="#333" stroke-width="0.35" stroke-linecap="butt"/>
<line x1="147.3" y1="201.3" x2="213.9" y2="201.3" stroke="#333" stroke-width="0.35" stroke-linecap="butt"/>
<clipPath id="cb8"><rect x="147.5" y="209.9" width="66.2" height="8.7"/></clipPath>
<g clip-path="url(#cb8)">
<rect x="147.5" y="209.9" width="66.2" height="8.7" fill="#e2e2e2" />
<g filter="url(#bl)">
<rect x="149.85" y="212.41" width="12.9" height="4.08" rx="2.04" fill="#000" opacity="1"/>
<rect x="165.95" y="212.85" width="11.9" height="3.4" rx="1.7" fill="#000" opacity="1"/>
<rect x="181.3" y="212" width="13.4" height="4.5" rx="2.25" fill="#000" opacity="1"/>
<rect x="198.4" y="212.21" width="12.4" height="4.08" rx="2.04" fill="#000" opacity="1"/>
</g>
<rect x="148.4" y="210.8" width="64.4" height="6.9" fill="none" stroke="#fff" stroke-width="0.9" opacity="0.55"/>
</g>
<rect x="147.5" y="209.9" width="66.2" height="8.7" fill="none" stroke="#5a5a5a" stroke-width="0.7"/>
<line x1="147.3" y1="209.9" x2="213.9" y2="209.9" stroke="#333" stroke-width="0.35" stroke-linecap="butt"/>
<line x1="147.3" y1="218.6" x2="213.9" y2="218.6" stroke="#333" stroke-width="0.35" stroke-linecap="butt"/>
<text x="217.4" y="162.83" font-size="5.5" text-anchor="start" font-weight="normal" fill="#111" stroke="#111" stroke-width="0.05">c-Myc</text>
<text x="217.4" y="180.33" font-size="5.5" text-anchor="start" font-weight="normal" fill="#111" stroke="#111" stroke-width="0.05">Ubiquitin</text>
<text x="217.4" y="198.63" font-size="5.5" text-anchor="start" font-weight="normal" fill="#111" stroke="#111" stroke-width="0.05">c-Myc</text>
<text x="217.4" y="215.93" font-size="5.5" text-anchor="start" font-weight="normal" fill="#111" stroke="#111" stroke-width="0.05">β-actin</text>
<line x1="242.6" y1="157.2" x2="242.6" y2="182.9" stroke="#000" stroke-width="1.2" stroke-linecap="butt"/>
<line x1="240.5" y1="192.6" x2="240.5" y2="218.4" stroke="#000" stroke-width="1.2" stroke-linecap="butt"/>
<text x="245.6" y="171.38" font-size="5.5" text-anchor="start" font-weight="normal" fill="#111" stroke="#111" stroke-width="0.05">IP anti-c-Myc</text>
<text x="243.5" y="207.18" font-size="5.5" text-anchor="start" font-weight="normal" fill="#111" stroke="#111" stroke-width="0.05">Input</text>
<text x="156.5" y="226.77" font-size="4.7" text-anchor="middle" fill="#2a2a2a" stroke="#2a2a2a" stroke-width="0.14">-</text>
<text x="171.9" y="226.65" font-size="4.7" text-anchor="middle" fill="#2a2a2a" stroke="#2a2a2a" stroke-width="0.2">+</text>
<text x="188" y="226.77" font-size="4.7" text-anchor="middle" fill="#2a2a2a" stroke="#2a2a2a" stroke-width="0.14">-</text>
<text x="204.5" y="226.65" font-size="4.7" text-anchor="middle" fill="#2a2a2a" stroke="#2a2a2a" stroke-width="0.2">+</text>
<text x="217.4" y="227.28" font-size="5.5" text-anchor="start" font-weight="normal" fill="#111" stroke="#111" stroke-width="0.05">Duv</text>
<text x="156.5" y="235.67" font-size="4.7" text-anchor="middle" fill="#2a2a2a" stroke="#2a2a2a" stroke-width="0.14">-</text>
<text x="171.9" y="235.67" font-size="4.7" text-anchor="middle" fill="#2a2a2a" stroke="#2a2a2a" stroke-width="0.14">-</text>
<text x="188" y="235.55" font-size="4.7" text-anchor="middle" fill="#2a2a2a" stroke="#2a2a2a" stroke-width="0.2">+</text>
<text x="204.5" y="235.55" font-size="4.7" text-anchor="middle" fill="#2a2a2a" stroke="#2a2a2a" stroke-width="0.2">+</text>
<text x="217.4" y="236.18" font-size="5.5" text-anchor="start" font-weight="normal" fill="#111" stroke="#111" stroke-width="0.05">Ven</text>
<rect x="301.9" y="203.4" width="11.8" height="20.1" fill="#a40a2c" />
<line x1="323.7" y1="184.2" x2="323.7" y2="173.25" stroke="#111" stroke-width="0.85" stroke-linecap="butt"/>
<line x1="320.6" y1="173.25" x2="326.8" y2="173.25" stroke="#111" stroke-width="0.85" stroke-linecap="butt"/>
<rect x="317.8" y="183.7" width="11.8" height="39.8" fill="#2c4a7e" />
<line x1="339.65" y1="191.44" x2="339.65" y2="176.26" stroke="#111" stroke-width="0.85" stroke-linecap="butt"/>
<line x1="336.55" y1="176.26" x2="342.75" y2="176.26" stroke="#111" stroke-width="0.85" stroke-linecap="butt"/>
<rect x="333.6" y="190.94" width="12.1" height="32.56" fill="#6aa842" />
<line x1="355.45" y1="168.32" x2="355.45" y2="161.79" stroke="#111" stroke-width="0.85" stroke-linecap="butt"/>
<line x1="352.35" y1="161.79" x2="358.55" y2="161.79" stroke="#111" stroke-width="0.85" stroke-linecap="butt"/>
<rect x="349.5" y="167.82" width="11.9" height="55.68" fill="#4d5467" />
<line x1="300" y1="140.6" x2="300" y2="224.07" stroke="#000" stroke-width="1.15" stroke-linecap="butt"/>
<line x1="299.43" y1="223.5" x2="363.7" y2="223.5" stroke="#000" stroke-width="1.15" stroke-linecap="butt"/>
<line x1="296.9" y1="223.5" x2="300" y2="223.5" stroke="#000" stroke-width="0.9" stroke-linecap="butt"/>
<text transform="translate(294.5 225.73) scale(0.86 1)" x="0" y="0" font-size="6.2" text-anchor="end" font-weight="normal" fill="#000" stroke="#000" stroke-width="0.16">0</text>
<line x1="296.9" y1="203.4" x2="300" y2="203.4" stroke="#000" stroke-width="0.9" stroke-linecap="butt"/>
<text transform="translate(294.5 205.63) scale(0.86 1)" x="0" y="0" font-size="6.2" text-anchor="end" font-weight="normal" fill="#000" stroke="#000" stroke-width="0.16">1</text>
<line x1="296.9" y1="183.3" x2="300" y2="183.3" stroke="#000" stroke-width="0.9" stroke-linecap="butt"/>
<text transform="translate(294.5 185.53) scale(0.86 1)" x="0" y="0" font-size="6.2" text-anchor="end" font-weight="normal" fill="#000" stroke="#000" stroke-width="0.16">2</text>
<line x1="296.9" y1="163.2" x2="300" y2="163.2" stroke="#000" stroke-width="0.9" stroke-linecap="butt"/>
<text transform="translate(294.5 165.43) scale(0.86 1)" x="0" y="0" font-size="6.2" text-anchor="end" font-weight="normal" fill="#000" stroke="#000" stroke-width="0.16">3</text>
<line x1="296.9" y1="143.1" x2="300" y2="143.1" stroke="#000" stroke-width="0.9" stroke-linecap="butt"/>
<text transform="translate(294.5 145.33) scale(0.86 1)" x="0" y="0" font-size="6.2" text-anchor="end" font-weight="normal" fill="#000" stroke="#000" stroke-width="0.16">4</text>
<text transform="translate(283 181.3) rotate(-90)" x="0" y="2.81" font-size="7.8" text-anchor="middle" fill="#111" stroke="#111" stroke-width="0.08" textLength="48" lengthAdjust="spacingAndGlyphs">Ub Mcl-1/Mcl-1 FC</text>
<text x="307.2" y="231.36" font-size="4.5" text-anchor="middle" fill="#333" stroke="#333" stroke-width="0.1">-</text>
<text x="322.7" y="230.94" font-size="4.5" text-anchor="middle" fill="#333" stroke="#333" stroke-width="0.14">+</text>
<text x="338.9" y="231.36" font-size="4.5" text-anchor="middle" fill="#333" stroke="#333" stroke-width="0.1">-</text>
<text x="355.6" y="230.94" font-size="4.5" text-anchor="middle" fill="#333" stroke="#333" stroke-width="0.14">+</text>
<text x="364.2" y="231.63" font-size="5.5" text-anchor="start" font-weight="normal" fill="#111" stroke="#111" stroke-width="0.05">Duv</text>
<text x="307.2" y="240.26" font-size="4.5" text-anchor="middle" fill="#333" stroke="#333" stroke-width="0.1">-</text>
<text x="322.7" y="240.26" font-size="4.5" text-anchor="middle" fill="#333" stroke="#333" stroke-width="0.1">-</text>
<text x="338.9" y="239.84" font-size="4.5" text-anchor="middle" fill="#333" stroke="#333" stroke-width="0.14">+</text>
<text x="355.6" y="239.84" font-size="4.5" text-anchor="middle" fill="#333" stroke="#333" stroke-width="0.14">+</text>
<text x="364.2" y="240.53" font-size="5.5" text-anchor="start" font-weight="normal" fill="#111" stroke="#111" stroke-width="0.05">Ven</text>
<rect x="401.4" y="216.25" width="12.1" height="7.25" fill="#a40a2c" />
<line x1="423.35" y1="196.87" x2="423.35" y2="193.55" stroke="#111" stroke-width="0.85" stroke-linecap="butt"/>
<line x1="420.25" y1="193.55" x2="426.45" y2="193.55" stroke="#111" stroke-width="0.85" stroke-linecap="butt"/>
<rect x="417.3" y="196.37" width="12.1" height="27.13" fill="#2c4a7e" />
<line x1="439.15" y1="212.73" x2="439.15" y2="211.43" stroke="#111" stroke-width="0.85" stroke-linecap="butt"/>
<line x1="436.05" y1="211.43" x2="442.25" y2="211.43" stroke="#111" stroke-width="0.85" stroke-linecap="butt"/>
<rect x="433.1" y="212.23" width="12.1" height="11.27" fill="#6aa842" />
<line x1="455.35" y1="169.66" x2="455.35" y2="160.71" stroke="#111" stroke-width="0.85" stroke-linecap="butt"/>
<line x1="452.25" y1="160.71" x2="458.45" y2="160.71" stroke="#111" stroke-width="0.85" stroke-linecap="butt"/>
<rect x="449.3" y="169.16" width="12.1" height="54.34" fill="#4d5467" />
<line x1="399.2" y1="140.6" x2="399.2" y2="224.07" stroke="#000" stroke-width="1.15" stroke-linecap="butt"/>
<line x1="398.62" y1="223.5" x2="463.6" y2="223.5" stroke="#000" stroke-width="1.15" stroke-linecap="butt"/>
<line x1="396.1" y1="223.5" x2="399.2" y2="223.5" stroke="#000" stroke-width="0.9" stroke-linecap="butt"/>
<text transform="translate(393.7 225.73) scale(0.86 1)" x="0" y="0" font-size="6.2" text-anchor="end" font-weight="normal" fill="#000" stroke="#000" stroke-width="0.16">0</text>
<line x1="396.1" y1="207.4" x2="399.2" y2="207.4" stroke="#000" stroke-width="0.9" stroke-linecap="butt"/>
<text transform="translate(393.7 209.63) scale(0.86 1)" x="0" y="0" font-size="6.2" text-anchor="end" font-weight="normal" fill="#000" stroke="#000" stroke-width="0.16">2</text>
<line x1="396.1" y1="191.3" x2="399.2" y2="191.3" stroke="#000" stroke-width="0.9" stroke-linecap="butt"/>
<text transform="translate(393.7 193.53) scale(0.86 1)" x="0" y="0" font-size="6.2" text-anchor="end" font-weight="normal" fill="#000" stroke="#000" stroke-width="0.16">4</text>
<line x1="396.1" y1="175.2" x2="399.2" y2="175.2" stroke="#000" stroke-width="0.9" stroke-linecap="butt"/>
<text transform="translate(393.7 177.43) scale(0.86 1)" x="0" y="0" font-size="6.2" text-anchor="end" font-weight="normal" fill="#000" stroke="#000" stroke-width="0.16">6</text>
<line x1="396.1" y1="159.1" x2="399.2" y2="159.1" stroke="#000" stroke-width="0.9" stroke-linecap="butt"/>
<text transform="translate(393.7 161.33) scale(0.86 1)" x="0" y="0" font-size="6.2" text-anchor="end" font-weight="normal" fill="#000" stroke="#000" stroke-width="0.16">8</text>
<line x1="396.1" y1="143" x2="399.2" y2="143" stroke="#000" stroke-width="0.9" stroke-linecap="butt"/>
<text transform="translate(393.7 145.23) scale(0.86 1)" x="0" y="0" font-size="6.2" text-anchor="end" font-weight="normal" fill="#000" stroke="#000" stroke-width="0.16">10</text>
<text transform="translate(380.9 181) rotate(-90)" x="0" y="2.81" font-size="7.8" text-anchor="middle" fill="#111" stroke="#111" stroke-width="0.08" textLength="48.5" lengthAdjust="spacingAndGlyphs">Ub c-Myc/c-Myc FC</text>
<text x="408" y="231.36" font-size="4.5" text-anchor="middle" fill="#333" stroke="#333" stroke-width="0.1">-</text>
<text x="421.7" y="230.94" font-size="4.5" text-anchor="middle" fill="#333" stroke="#333" stroke-width="0.14">+</text>
<text x="437.8" y="231.36" font-size="4.5" text-anchor="middle" fill="#333" stroke="#333" stroke-width="0.1">-</text>
<text x="455.1" y="230.94" font-size="4.5" text-anchor="middle" fill="#333" stroke="#333" stroke-width="0.14">+</text>
<text x="463.8" y="231.63" font-size="5.5" text-anchor="start" font-weight="normal" fill="#111" stroke="#111" stroke-width="0.05">Duv</text>
<text x="408" y="240.26" font-size="4.5" text-anchor="middle" fill="#333" stroke="#333" stroke-width="0.1">-</text>
<text x="421.7" y="240.26" font-size="4.5" text-anchor="middle" fill="#333" stroke="#333" stroke-width="0.1">-</text>
<text x="437.8" y="239.84" font-size="4.5" text-anchor="middle" fill="#333" stroke="#333" stroke-width="0.14">+</text>
<text x="455.1" y="239.84" font-size="4.5" text-anchor="middle" fill="#333" stroke="#333" stroke-width="0.14">+</text>
<text x="463.8" y="240.53" font-size="5.5" text-anchor="start" font-weight="normal" fill="#111" stroke="#111" stroke-width="0.05">Ven</text>
<clipPath id="cc1"><rect x="16.3" y="271.2" width="132.4" height="9"/></clipPath>
<g clip-path="url(#cc1)">
<rect x="16.3" y="271.2" width="132.4" height="9" fill="#e4e4e4" />
<g filter="url(#bl)">
<rect x="20" y="272.79" width="8.4" height="1.02" rx="0.51" fill="#000" opacity="0.22"/>
<rect x="19" y="275.83" width="10.4" height="1.53" rx="0.77" fill="#000" opacity="0.95"/>
<rect x="36.1" y="272.83" width="7.4" height="0.94" rx="0.47" fill="#000" opacity="0.12"/>
<rect x="35.1" y="275.88" width="9.4" height="1.44" rx="0.72" fill="#000" opacity="0.85"/>
<rect x="52.8" y="272.63" width="7.4" height="0.94" rx="0.47" fill="#000" opacity="0.12"/>
<rect x="51.55" y="275.38" width="9.9" height="1.44" rx="0.72" fill="#000" opacity="0.85"/>
<rect x="69" y="275.06" width="8.4" height="1.27" rx="0.64" fill="#000" opacity="0.7"/>
<rect x="85.05" y="274.04" width="11.9" height="2.72" rx="1.36" fill="#000" opacity="1"/>
<rect x="101.75" y="274.23" width="11.9" height="2.55" rx="1.27" fill="#000" opacity="1"/>
<rect x="119.15" y="274.68" width="10.9" height="2.04" rx="1.02" fill="#000" opacity="1"/>
<rect x="135.15" y="274.68" width="10.9" height="2.04" rx="1.02" fill="#000" opacity="1"/>
</g>
<rect x="17.2" y="272.1" width="130.6" height="7.2" fill="none" stroke="#fff" stroke-width="0.9" opacity="0.55"/>
</g>
<rect x="16.3" y="271.2" width="132.4" height="9" fill="none" stroke="#5a5a5a" stroke-width="0.7"/>
<line x1="16.1" y1="271.2" x2="148.9" y2="271.2" stroke="#333" stroke-width="0.35" stroke-linecap="butt"/>
<line x1="16.1" y1="280.2" x2="148.9" y2="280.2" stroke="#333" stroke-width="0.35" stroke-linecap="butt"/>
<clipPath id="cc2"><rect x="16.3" y="288.1" width="132.4" height="9"/></clipPath>
<g clip-path="url(#cc2)">
<rect x="16.3" y="288.1" width="132.4" height="9" fill="#dadada" />
<g filter="url(#bl)">
<rect x="19.75" y="292.26" width="8.9" height="1.27" rx="0.64" fill="#000" opacity="0.7"/>
<rect x="35.6" y="292" width="8.4" height="1.19" rx="0.59" fill="#000" opacity="0.5"/>
<rect x="51.8" y="291.14" width="9.4" height="1.53" rx="0.77" fill="#000" opacity="0.85"/>
<rect x="69.5" y="291.79" width="7.4" height="1.02" rx="0.51" fill="#000" opacity="0.2"/>
<rect x="85.05" y="291.01" width="11.9" height="2.38" rx="1.19" fill="#000" opacity="1"/>
<rect x="102" y="291.3" width="11.4" height="2.21" rx="1.1" fill="#000" opacity="1"/>
<rect x="118.4" y="291.74" width="12.4" height="2.72" rx="1.36" fill="#000" opacity="1"/>
<rect x="134.9" y="291.71" width="11.4" height="2.38" rx="1.19" fill="#000" opacity="1"/>
</g>
<rect x="17.2" y="289" width="130.6" height="7.2" fill="none" stroke="#fff" stroke-width="0.9" opacity="0.55"/>
</g>
<rect x="16.3" y="288.1" width="132.4" height="9" fill="none" stroke="#5a5a5a" stroke-width="0.7"/>
<line x1="16.1" y1="288.1" x2="148.9" y2="288.1" stroke="#333" stroke-width="0.35" stroke-linecap="butt"/>
<line x1="16.1" y1="297.1" x2="148.9" y2="297.1" stroke="#333" stroke-width="0.35" stroke-linecap="butt"/>
<clipPath id="cc3"><rect x="16.3" y="304.9" width="132.4" height="9"/></clipPath>
<g clip-path="url(#cc3)">
<rect x="16.3" y="304.9" width="132.4" height="9" fill="#eaeaea" />
<g filter="url(#bl)">
<rect x="18.25" y="308.29" width="11.9" height="2.21" rx="1.1" fill="#000" opacity="1"/>
<rect x="34.35" y="308.66" width="10.9" height="1.87" rx="0.94" fill="#000" opacity="1"/>
<rect x="50.8" y="308.38" width="11.4" height="2.04" rx="1.02" fill="#000" opacity="1"/>
<rect x="67.5" y="308.46" width="11.4" height="1.87" rx="0.94" fill="#000" opacity="1"/>
<rect x="85.3" y="308.58" width="11.4" height="2.04" rx="1.02" fill="#000" opacity="1"/>
<rect x="102.25" y="308.86" width="10.9" height="1.87" rx="0.94" fill="#000" opacity="1"/>
<rect x="119.15" y="308.96" width="10.9" height="1.87" rx="0.94" fill="#000" opacity="1"/>
<rect x="135.15" y="308.76" width="10.9" height="1.87" rx="0.94" fill="#000" opacity="1"/>
</g>
<rect x="17.2" y="305.8" width="130.6" height="7.2" fill="none" stroke="#fff" stroke-width="0.9" opacity="0.55"/>
</g>
<rect x="16.3" y="304.9" width="132.4" height="9" fill="none" stroke="#5a5a5a" stroke-width="0.7"/>
<line x1="16.1" y1="304.9" x2="148.9" y2="304.9" stroke="#333" stroke-width="0.35" stroke-linecap="butt"/>
<line x1="16.1" y1="313.9" x2="148.9" y2="313.9" stroke="#333" stroke-width="0.35" stroke-linecap="butt"/>
<text x="152.5" y="277.48" font-size="5.5" text-anchor="start" font-weight="normal" fill="#111" stroke="#111" stroke-width="0.05">Mcl-1</text>
<text x="152.5" y="294.38" font-size="5.5" text-anchor="start" font-weight="normal" fill="#111" stroke="#111" stroke-width="0.05">c-Myc</text>
<text x="152.5" y="311.18" font-size="5.5" text-anchor="start" font-weight="normal" fill="#111" stroke="#111" stroke-width="0.05">β-actin</text>
<text x="24.4" y="322.07" font-size="4.7" text-anchor="middle" fill="#2a2a2a" stroke="#2a2a2a" stroke-width="0.14">-</text>
<text x="40" y="321.95" font-size="4.7" text-anchor="middle" fill="#2a2a2a" stroke="#2a2a2a" stroke-width="0.2">+</text>
<text x="56.7" y="322.07" font-size="4.7" text-anchor="middle" fill="#2a2a2a" stroke="#2a2a2a" stroke-width="0.14">-</text>
<text x="73.4" y="321.95" font-size="4.7" text-anchor="middle" fill="#2a2a2a" stroke="#2a2a2a" stroke-width="0.2">+</text>
<text x="91.2" y="322.07" font-size="4.7" text-anchor="middle" fill="#2a2a2a" stroke="#2a2a2a" stroke-width="0.14">-</text>
<text x="107.9" y="321.95" font-size="4.7" text-anchor="middle" fill="#2a2a2a" stroke="#2a2a2a" stroke-width="0.2">+</text>
<text x="124.8" y="322.07" font-size="4.7" text-anchor="middle" fill="#2a2a2a" stroke="#2a2a2a" stroke-width="0.14">-</text>
<text x="140.8" y="321.95" font-size="4.7" text-anchor="middle" fill="#2a2a2a" stroke="#2a2a2a" stroke-width="0.2">+</text>
<text x="152.5" y="322.58" font-size="5.5" text-anchor="start" font-weight="normal" fill="#111" stroke="#111" stroke-width="0.05">Duv</text>
<text x="24.4" y="330.67" font-size="4.7" text-anchor="middle" fill="#2a2a2a" stroke="#2a2a2a" stroke-width="0.14">-</text>
<text x="40" y="330.67" font-size="4.7" text-anchor="middle" fill="#2a2a2a" stroke="#2a2a2a" stroke-width="0.14">-</text>
<text x="56.7" y="330.55" font-size="4.7" text-anchor="middle" fill="#2a2a2a" stroke="#2a2a2a" stroke-width="0.2">+</text>
<text x="73.4" y="330.55" font-size="4.7" text-anchor="middle" fill="#2a2a2a" stroke="#2a2a2a" stroke-width="0.2">+</text>
<text x="91.2" y="330.67" font-size="4.7" text-anchor="middle" fill="#2a2a2a" stroke="#2a2a2a" stroke-width="0.14">-</text>
<text x="107.9" y="330.67" font-size="4.7" text-anchor="middle" fill="#2a2a2a" stroke="#2a2a2a" stroke-width="0.14">-</text>
<text x="124.8" y="330.55" font-size="4.7" text-anchor="middle" fill="#2a2a2a" stroke="#2a2a2a" stroke-width="0.2">+</text>
<text x="140.8" y="330.55" font-size="4.7" text-anchor="middle" fill="#2a2a2a" stroke="#2a2a2a" stroke-width="0.2">+</text>
<text x="152.5" y="331.18" font-size="5.5" text-anchor="start" font-weight="normal" fill="#111" stroke="#111" stroke-width="0.05">Ven</text>
<text x="24.4" y="339.57" font-size="4.7" text-anchor="middle" fill="#2a2a2a" stroke="#2a2a2a" stroke-width="0.14">-</text>
<text x="40" y="339.57" font-size="4.7" text-anchor="middle" fill="#2a2a2a" stroke="#2a2a2a" stroke-width="0.14">-</text>
<text x="56.7" y="339.57" font-size="4.7" text-anchor="middle" fill="#2a2a2a" stroke="#2a2a2a" stroke-width="0.14">-</text>
<text x="73.4" y="339.57" font-size="4.7" text-anchor="middle" fill="#2a2a2a" stroke="#2a2a2a" stroke-width="0.14">-</text>
<text x="91.2" y="339.45" font-size="4.7" text-anchor="middle" fill="#2a2a2a" stroke="#2a2a2a" stroke-width="0.2">+</text>
<text x="107.9" y="339.45" font-size="4.7" text-anchor="middle" fill="#2a2a2a" stroke="#2a2a2a" stroke-width="0.2">+</text>
<text x="124.8" y="339.45" font-size="4.7" text-anchor="middle" fill="#2a2a2a" stroke="#2a2a2a" stroke-width="0.2">+</text>
<text x="140.8" y="339.45" font-size="4.7" text-anchor="middle" fill="#2a2a2a" stroke="#2a2a2a" stroke-width="0.2">+</text>
<text x="152.5" y="340.08" font-size="5.5" text-anchor="start" font-weight="normal" fill="#111" stroke="#111" stroke-width="0.05">MG-132</text>
<line x1="208.8" y1="324.64" x2="208.8" y2="321.43" stroke="#111" stroke-width="0.85" stroke-linecap="butt"/>
<line x1="205.7" y1="321.43" x2="211.9" y2="321.43" stroke="#111" stroke-width="0.85" stroke-linecap="butt"/>
<rect x="202.3" y="324.14" width="13" height="16.26" fill="#a40a2c" />
<line x1="221.75" y1="298.08" x2="221.75" y2="287.55" stroke="#111" stroke-width="0.85" stroke-linecap="butt"/>
<line x1="218.65" y1="287.55" x2="224.85" y2="287.55" stroke="#111" stroke-width="0.85" stroke-linecap="butt"/>
<rect x="215.3" y="297.58" width="12.9" height="42.82" fill="#2c4a7e" />
<line x1="238.45" y1="328.43" x2="238.45" y2="324.95" stroke="#111" stroke-width="0.85" stroke-linecap="butt"/>
<line x1="235.35" y1="324.95" x2="241.55" y2="324.95" stroke="#111" stroke-width="0.85" stroke-linecap="butt"/>
<rect x="232" y="327.93" width="12.9" height="12.47" fill="#a40a2c" />
<line x1="251.35" y1="301.33" x2="251.35" y2="292.43" stroke="#111" stroke-width="0.85" stroke-linecap="butt"/>
<line x1="248.25" y1="292.43" x2="254.45" y2="292.43" stroke="#111" stroke-width="0.85" stroke-linecap="butt"/>
<rect x="244.9" y="300.83" width="12.9" height="39.57" fill="#2c4a7e" />
<line x1="267.9" y1="332.23" x2="267.9" y2="328.75" stroke="#111" stroke-width="0.85" stroke-linecap="butt"/>
<line x1="264.8" y1="328.75" x2="271" y2="328.75" stroke="#111" stroke-width="0.85" stroke-linecap="butt"/>
<rect x="261.6" y="331.73" width="12.6" height="8.67" fill="#a40a2c" />
<line x1="280.65" y1="326" x2="280.65" y2="320.07" stroke="#111" stroke-width="0.85" stroke-linecap="butt"/>
<line x1="277.55" y1="320.07" x2="283.75" y2="320.07" stroke="#111" stroke-width="0.85" stroke-linecap="butt"/>
<rect x="274.2" y="325.5" width="12.9" height="14.9" fill="#2c4a7e" />
<line x1="297.35" y1="336.29" x2="297.35" y2="333.08" stroke="#111" stroke-width="0.85" stroke-linecap="butt"/>
<line x1="294.25" y1="333.08" x2="300.45" y2="333.08" stroke="#111" stroke-width="0.85" stroke-linecap="butt"/>
<rect x="290.9" y="335.79" width="12.9" height="4.61" fill="#a40a2c" />
<line x1="310.35" y1="321.39" x2="310.35" y2="313.84" stroke="#111" stroke-width="0.85" stroke-linecap="butt"/>
<line x1="307.25" y1="313.84" x2="313.45" y2="313.84" stroke="#111" stroke-width="0.85" stroke-linecap="butt"/>
<rect x="303.8" y="320.89" width="13.1" height="19.51" fill="#2c4a7e" />
<line x1="200.5" y1="257.1" x2="200.5" y2="340.97" stroke="#000" stroke-width="1.15" stroke-linecap="butt"/>
<line x1="199.93" y1="340.4" x2="318.8" y2="340.4" stroke="#000" stroke-width="1.15" stroke-linecap="butt"/>
<line x1="197.4" y1="340.4" x2="200.5" y2="340.4" stroke="#000" stroke-width="0.9" stroke-linecap="butt"/>
<text transform="translate(195 342.63) scale(0.86 1)" x="0" y="0" font-size="6.2" text-anchor="end" font-weight="normal" fill="#000" stroke="#000" stroke-width="0.16">0</text>
<line x1="197.4" y1="313.3" x2="200.5" y2="313.3" stroke="#000" stroke-width="0.9" stroke-linecap="butt"/>
<text transform="translate(195 315.53) scale(0.86 1)" x="0" y="0" font-size="6.2" text-anchor="end" font-weight="normal" fill="#000" stroke="#000" stroke-width="0.16">0.2</text>
<line x1="197.4" y1="286.2" x2="200.5" y2="286.2" stroke="#000" stroke-width="0.9" stroke-linecap="butt"/>
<text transform="translate(195 288.43) scale(0.86 1)" x="0" y="0" font-size="6.2" text-anchor="end" font-weight="normal" fill="#000" stroke="#000" stroke-width="0.16">0.4</text>
<line x1="197.4" y1="259.1" x2="200.5" y2="259.1" stroke="#000" stroke-width="0.9" stroke-linecap="butt"/>
<text transform="translate(195 261.33) scale(0.86 1)" x="0" y="0" font-size="6.2" text-anchor="end" font-weight="normal" fill="#000" stroke="#000" stroke-width="0.16">0.6</text>
<text transform="translate(179.4 298.6) rotate(-90)" x="0" y="2.81" font-size="7.8" text-anchor="middle" fill="#111" stroke="#111" stroke-width="0.08" textLength="35.5" lengthAdjust="spacingAndGlyphs">Mcl-1/β-actin</text>
<path d="M206.9 286.3 L206.9 285.2 Q206.9 284.8 207.3 284.8 L221.9 284.8 Q222.3 284.8 222.3 285.2 L222.3 286.3" fill="none" stroke="#000" stroke-width="0.85"/>
<text x="214.9" y="285.15" font-size="6.5" letter-spacing="0.6" text-anchor="middle" fill="#000" stroke="#000" stroke-width="0.12">*</text>
<path d="M236.5 290.3 L236.5 289.2 Q236.5 288.8 236.9 288.8 L251.7 288.8 Q252.1 288.8 252.1 289.2 L252.1 290.3" fill="none" stroke="#000" stroke-width="0.85"/>
<text x="244.6" y="289.15" font-size="6.5" letter-spacing="0.6" text-anchor="middle" fill="#000" stroke="#000" stroke-width="0.12">*</text>
<path d="M295.7 311.6 L295.7 310.5 Q295.7 310.1 296.1 310.1 L310.6 310.1 Q311 310.1 311 310.5 L311 311.6" fill="none" stroke="#000" stroke-width="0.85"/>
<text x="303.65" y="310.45" font-size="6.5" letter-spacing="0.6" text-anchor="middle" fill="#000" stroke="#000" stroke-width="0.12">*</text>
<text x="215.5" y="348.21" font-size="4.5" text-anchor="middle" fill="#333" stroke="#333" stroke-width="0.1">-</text>
<text x="245.1" y="347.79" font-size="4.5" text-anchor="middle" fill="#333" stroke="#333" stroke-width="0.14">+</text>
<text x="275.8" y="348.21" font-size="4.5" text-anchor="middle" fill="#333" stroke="#333" stroke-width="0.1">-</text>
<text x="303.8" y="347.79" font-size="4.5" text-anchor="middle" fill="#333" stroke="#333" stroke-width="0.14">+</text>
<text x="319" y="348.48" font-size="5.5" text-anchor="start" font-weight="normal" fill="#111" stroke="#111" stroke-width="0.05">Duv</text>
<text x="215.5" y="357.21" font-size="4.5" text-anchor="middle" fill="#333" stroke="#333" stroke-width="0.1">-</text>
<text x="245.1" y="357.21" font-size="4.5" text-anchor="middle" fill="#333" stroke="#333" stroke-width="0.1">-</text>
<text x="275.8" y="356.79" font-size="4.5" text-anchor="middle" fill="#333" stroke="#333" stroke-width="0.14">+</text>
<text x="303.8" y="356.79" font-size="4.5" text-anchor="middle" fill="#333" stroke="#333" stroke-width="0.14">+</text>
<text x="319" y="357.48" font-size="5.5" text-anchor="start" font-weight="normal" fill="#111" stroke="#111" stroke-width="0.05">Ven</text>
<rect x="292.2" y="257.75" width="3.9" height="2.3" fill="#a40a2c" />
<rect x="292.2" y="265.45" width="3.9" height="2.3" fill="#2c4a7e" />
<text x="299.1" y="260.52" font-size="4.5" text-anchor="start" font-weight="normal" fill="#111" stroke="#111" stroke-width="0.05">- MG-132</text>
<text x="299.1" y="268.22" font-size="4.5" text-anchor="start" font-weight="normal" fill="#111" stroke="#111" stroke-width="0.05">+ MG-132</text>
<line x1="365.2" y1="316.86" x2="365.2" y2="307.92" stroke="#111" stroke-width="0.85" stroke-linecap="butt"/>
<line x1="362.1" y1="307.92" x2="368.3" y2="307.92" stroke="#111" stroke-width="0.85" stroke-linecap="butt"/>
<rect x="359.1" y="316.36" width="12.2" height="24.04" fill="#a40a2c" />
<line x1="377.2" y1="275.94" x2="377.2" y2="264.32" stroke="#111" stroke-width="0.85" stroke-linecap="butt"/>
<line x1="374.1" y1="264.32" x2="380.3" y2="264.32" stroke="#111" stroke-width="0.85" stroke-linecap="butt"/>
<rect x="371.3" y="275.44" width="11.8" height="64.96" fill="#2c4a7e" />
<line x1="395.05" y1="331.48" x2="395.05" y2="326.6" stroke="#111" stroke-width="0.85" stroke-linecap="butt"/>
<line x1="391.95" y1="326.6" x2="398.15" y2="326.6" stroke="#111" stroke-width="0.85" stroke-linecap="butt"/>
<rect x="389" y="330.98" width="12.1" height="9.42" fill="#a40a2c" />
<line x1="406.7" y1="300.3" x2="406.7" y2="290.06" stroke="#111" stroke-width="0.85" stroke-linecap="butt"/>
<line x1="403.6" y1="290.06" x2="409.8" y2="290.06" stroke="#111" stroke-width="0.85" stroke-linecap="butt"/>
<rect x="401.1" y="299.8" width="11.2" height="40.6" fill="#2c4a7e" />
<line x1="424.85" y1="308.99" x2="424.85" y2="295.42" stroke="#111" stroke-width="0.85" stroke-linecap="butt"/>
<line x1="421.75" y1="295.42" x2="427.95" y2="295.42" stroke="#111" stroke-width="0.85" stroke-linecap="butt"/>
<rect x="419.1" y="308.49" width="11.5" height="31.91" fill="#a40a2c" />
<line x1="436.4" y1="295.92" x2="436.4" y2="283.07" stroke="#111" stroke-width="0.85" stroke-linecap="butt"/>
<line x1="433.3" y1="283.07" x2="439.5" y2="283.07" stroke="#111" stroke-width="0.85" stroke-linecap="butt"/>
<rect x="430.6" y="295.42" width="11.6" height="44.98" fill="#2c4a7e" />
<line x1="454.6" y1="331.97" x2="454.6" y2="325.78" stroke="#111" stroke-width="0.85" stroke-linecap="butt"/>
<line x1="451.5" y1="325.78" x2="457.7" y2="325.78" stroke="#111" stroke-width="0.85" stroke-linecap="butt"/>
<rect x="448.7" y="331.47" width="11.8" height="8.93" fill="#a40a2c" />
<line x1="466.3" y1="315.16" x2="466.3" y2="309.3" stroke="#111" stroke-width="0.85" stroke-linecap="butt"/>
<line x1="463.2" y1="309.3" x2="469.4" y2="309.3" stroke="#111" stroke-width="0.85" stroke-linecap="butt"/>
<rect x="460.5" y="314.66" width="11.6" height="25.74" fill="#2c4a7e" />
<line x1="356.7" y1="257.1" x2="356.7" y2="340.97" stroke="#000" stroke-width="1.15" stroke-linecap="butt"/>
<line x1="356.12" y1="340.4" x2="474.8" y2="340.4" stroke="#000" stroke-width="1.15" stroke-linecap="butt"/>
<line x1="353.6" y1="340.4" x2="356.7" y2="340.4" stroke="#000" stroke-width="0.9" stroke-linecap="butt"/>
<text transform="translate(351.2 342.63) scale(0.86 1)" x="0" y="0" font-size="6.2" text-anchor="end" font-weight="normal" fill="#000" stroke="#000" stroke-width="0.16">0</text>
<line x1="353.6" y1="324.16" x2="356.7" y2="324.16" stroke="#000" stroke-width="0.9" stroke-linecap="butt"/>
<text transform="translate(351.2 326.39) scale(0.86 1)" x="0" y="0" font-size="6.2" text-anchor="end" font-weight="normal" fill="#000" stroke="#000" stroke-width="0.16">0.2</text>
<line x1="353.6" y1="307.92" x2="356.7" y2="307.92" stroke="#000" stroke-width="0.9" stroke-linecap="butt"/>
<text transform="translate(351.2 310.15) scale(0.86 1)" x="0" y="0" font-size="6.2" text-anchor="end" font-weight="normal" fill="#000" stroke="#000" stroke-width="0.16">0.4</text>
<line x1="353.6" y1="291.68" x2="356.7" y2="291.68" stroke="#000" stroke-width="0.9" stroke-linecap="butt"/>
<text transform="translate(351.2 293.91) scale(0.86 1)" x="0" y="0" font-size="6.2" text-anchor="end" font-weight="normal" fill="#000" stroke="#000" stroke-width="0.16">0.6</text>
<line x1="353.6" y1="275.44" x2="356.7" y2="275.44" stroke="#000" stroke-width="0.9" stroke-linecap="butt"/>
<text transform="translate(351.2 277.67) scale(0.86 1)" x="0" y="0" font-size="6.2" text-anchor="end" font-weight="normal" fill="#000" stroke="#000" stroke-width="0.16">0.8</text>
<line x1="353.6" y1="259.2" x2="356.7" y2="259.2" stroke="#000" stroke-width="0.9" stroke-linecap="butt"/>
<text transform="translate(351.2 261.43) scale(0.86 1)" x="0" y="0" font-size="6.2" text-anchor="end" font-weight="normal" fill="#000" stroke="#000" stroke-width="0.16">1.0</text>
<text transform="translate(336 297.8) rotate(-90)" x="0" y="2.81" font-size="7.8" text-anchor="middle" fill="#111" stroke="#111" stroke-width="0.08" textLength="35.5" lengthAdjust="spacingAndGlyphs">c-Myc/β-actin</text>
<path d="M362.9 261.8 L362.9 260.7 Q362.9 260.3 363.3 260.3 L377.9 260.3 Q378.3 260.3 378.3 260.7 L378.3 261.8" fill="none" stroke="#000" stroke-width="0.85"/>
<text x="370.9" y="260.65" font-size="6.5" letter-spacing="0.6" text-anchor="middle" fill="#000" stroke="#000" stroke-width="0.12">*</text>
<path d="M392 287.9 L392 286.8 Q392 286.4 392.4 286.4 L406.9 286.4 Q407.3 286.4 407.3 286.8 L407.3 287.9" fill="none" stroke="#000" stroke-width="0.85"/>
<text x="399.95" y="286.75" font-size="6.5" letter-spacing="0.6" text-anchor="middle" fill="#000" stroke="#000" stroke-width="0.12">*</text>
<path d="M450.8 306.5 L450.8 305.4 Q450.8 305 451.2 305 L465.8 305 Q466.2 305 466.2 305.4 L466.2 306.5" fill="none" stroke="#000" stroke-width="0.85"/>
<text x="458.8" y="305.35" font-size="6.5" letter-spacing="0.6" text-anchor="middle" fill="#000" stroke="#000" stroke-width="0.12">*</text>
<text x="371.2" y="348.21" font-size="4.5" text-anchor="middle" fill="#333" stroke="#333" stroke-width="0.1">-</text>
<text x="400.5" y="347.79" font-size="4.5" text-anchor="middle" fill="#333" stroke="#333" stroke-width="0.14">+</text>
<text x="431.1" y="348.21" font-size="4.5" text-anchor="middle" fill="#333" stroke="#333" stroke-width="0.1">-</text>
<text x="460.2" y="347.79" font-size="4.5" text-anchor="middle" fill="#333" stroke="#333" stroke-width="0.14">+</text>
<text x="474.8" y="348.48" font-size="5.5" text-anchor="start" font-weight="normal" fill="#111" stroke="#111" stroke-width="0.05">Duv</text>
<text x="371.2" y="357.21" font-size="4.5" text-anchor="middle" fill="#333" stroke="#333" stroke-width="0.1">-</text>
<text x="400.5" y="357.21" font-size="4.5" text-anchor="middle" fill="#333" stroke="#333" stroke-width="0.1">-</text>
<text x="431.1" y="356.79" font-size="4.5" text-anchor="middle" fill="#333" stroke="#333" stroke-width="0.14">+</text>
<text x="460.2" y="356.79" font-size="4.5" text-anchor="middle" fill="#333" stroke="#333" stroke-width="0.14">+</text>
<text x="474.8" y="357.48" font-size="5.5" text-anchor="start" font-weight="normal" fill="#111" stroke="#111" stroke-width="0.05">Ven</text>
<rect x="448.4" y="257.75" width="3.9" height="2.3" fill="#a40a2c" />
<rect x="448.4" y="265.45" width="3.9" height="2.3" fill="#2c4a7e" />
<text x="455.3" y="260.52" font-size="4.5" text-anchor="start" font-weight="normal" fill="#111" stroke="#111" stroke-width="0.05">- MG-132</text>
<text x="455.3" y="268.22" font-size="4.5" text-anchor="start" font-weight="normal" fill="#111" stroke="#111" stroke-width="0.05">+ MG-132</text>
<clipPath id="cd1"><rect x="16.4" y="376.2" width="132.2" height="8.8"/></clipPath>
<g clip-path="url(#cd1)">
<rect x="16.4" y="376.2" width="132.2" height="8.8" fill="#ececec" />
<g filter="url(#bl)">
<rect x="17.85" y="378.73" width="11.9" height="3.74" rx="1.87" fill="#000" opacity="1"/>
<rect x="33.95" y="379.88" width="10.9" height="2.64" rx="1.32" fill="#000" opacity="1"/>
<rect x="50.15" y="379.46" width="11.9" height="3.08" rx="1.54" fill="#000" opacity="1"/>
<rect x="68.6" y="379.91" width="9.4" height="1.98" rx="0.99" fill="#000" opacity="0.8"/>
<rect x="84.85" y="378.64" width="11.9" height="3.52" rx="1.76" fill="#000" opacity="1"/>
<rect x="102.3" y="379.46" width="11.4" height="3.08" rx="1.54" fill="#000" opacity="1"/>
<rect x="118.45" y="379.45" width="11.9" height="3.3" rx="1.65" fill="#000" opacity="1"/>
<rect x="134.85" y="379.25" width="11.9" height="3.3" rx="1.65" fill="#000" opacity="1"/>
</g>
<rect x="17.3" y="377.1" width="130.4" height="7" fill="none" stroke="#fff" stroke-width="0.9" opacity="0.55"/>
</g>
<rect x="16.4" y="376.2" width="132.2" height="8.8" fill="none" stroke="#5a5a5a" stroke-width="0.7"/>
<line x1="16.2" y1="376.2" x2="148.8" y2="376.2" stroke="#333" stroke-width="0.35" stroke-linecap="butt"/>
<line x1="16.2" y1="385" x2="148.8" y2="385" stroke="#333" stroke-width="0.35" stroke-linecap="butt"/>
<clipPath id="cd2"><rect x="16.4" y="392.5" width="132.2" height="8.8"/></clipPath>
<g clip-path="url(#cd2)">
<rect x="16.4" y="392.5" width="132.2" height="8.8" fill="#eeeeee" />
<g filter="url(#bl)">
<rect x="18.1" y="395.99" width="11.4" height="2.42" rx="1.21" fill="#000" opacity="1"/>
<rect x="33.95" y="396.19" width="10.9" height="2.42" rx="1.21" fill="#000" opacity="1"/>
<rect x="50.4" y="395.89" width="11.4" height="2.42" rx="1.21" fill="#000" opacity="1"/>
<rect x="67.6" y="395.38" width="11.4" height="2.64" rx="1.32" fill="#000" opacity="1"/>
<rect x="84.85" y="395.47" width="11.9" height="2.86" rx="1.43" fill="#000" opacity="1"/>
<rect x="102.3" y="395.58" width="11.4" height="2.64" rx="1.32" fill="#000" opacity="1"/>
<rect x="118.45" y="395.78" width="11.9" height="2.64" rx="1.32" fill="#000" opacity="1"/>
<rect x="135.1" y="395.78" width="11.4" height="2.64" rx="1.32" fill="#000" opacity="1"/>
</g>
<rect x="17.3" y="393.4" width="130.4" height="7" fill="none" stroke="#fff" stroke-width="0.9" opacity="0.55"/>
</g>
<rect x="16.4" y="392.5" width="132.2" height="8.8" fill="none" stroke="#5a5a5a" stroke-width="0.7"/>
<line x1="16.2" y1="392.5" x2="148.8" y2="392.5" stroke="#333" stroke-width="0.35" stroke-linecap="butt"/>
<line x1="16.2" y1="401.3" x2="148.8" y2="401.3" stroke="#333" stroke-width="0.35" stroke-linecap="butt"/>
<clipPath id="cd3"><rect x="16.4" y="408.4" width="132.2" height="8.8"/></clipPath>
<g clip-path="url(#cd3)">
<rect x="16.4" y="408.4" width="132.2" height="8.8" fill="#eaeaea" />
<g filter="url(#bl)">
<rect x="17.85" y="410.46" width="11.9" height="3.08" rx="1.54" fill="#000" opacity="1"/>
<rect x="33.95" y="411.68" width="10.9" height="2.64" rx="1.32" fill="#000" opacity="1"/>
<rect x="50.15" y="411.75" width="11.9" height="3.3" rx="1.65" fill="#000" opacity="1"/>
<rect x="68.6" y="412.72" width="9.4" height="1.76" rx="0.88" fill="#000" opacity="0.8"/>
<rect x="84.6" y="411.21" width="12.4" height="4.18" rx="2.09" fill="#000" opacity="1"/>
<rect x="102.55" y="411.39" width="10.9" height="2.42" rx="1.21" fill="#000" opacity="1"/>
<rect x="118.2" y="410.74" width="12.4" height="3.52" rx="1.76" fill="#000" opacity="1"/>
<rect x="135.1" y="411.37" width="11.4" height="2.86" rx="1.43" fill="#000" opacity="1"/>
</g>
<rect x="17.3" y="409.3" width="130.4" height="7" fill="none" stroke="#fff" stroke-width="0.9" opacity="0.55"/>
</g>
<rect x="16.4" y="408.4" width="132.2" height="8.8" fill="none" stroke="#5a5a5a" stroke-width="0.7"/>
<line x1="16.2" y1="408.4" x2="148.8" y2="408.4" stroke="#333" stroke-width="0.35" stroke-linecap="butt"/>
<line x1="16.2" y1="417.2" x2="148.8" y2="417.2" stroke="#333" stroke-width="0.35" stroke-linecap="butt"/>
<clipPath id="cd4"><rect x="16.4" y="424.5" width="132.2" height="8.8"/></clipPath>
<g clip-path="url(#cd4)">
<rect x="16.4" y="424.5" width="132.2" height="8.8" fill="#d6d6d6" />
<g filter="url(#bl)">
<rect x="17.6" y="426.78" width="12.4" height="3.63" rx="1.81" fill="#000" opacity="1"/>
<rect x="34.45" y="428.82" width="9.9" height="1.76" rx="0.88" fill="#000" opacity="0.9"/>
<rect x="50.15" y="426.74" width="11.9" height="3.52" rx="1.76" fill="#000" opacity="1"/>
<rect x="69.1" y="428.24" width="8.4" height="1.32" rx="0.66" fill="#000" opacity="0.5"/>
<rect x="84.85" y="426.7" width="11.9" height="3.19" rx="1.59" fill="#000" opacity="1"/>
<rect x="103.05" y="428.82" width="9.9" height="1.76" rx="0.88" fill="#000" opacity="0.85"/>
<rect x="118.2" y="427.64" width="12.4" height="3.52" rx="1.76" fill="#000" opacity="1"/>
<rect x="135.85" y="428.3" width="9.9" height="2.2" rx="1.1" fill="#000" opacity="0.8"/>
</g>
<rect x="17.3" y="425.4" width="130.4" height="7" fill="none" stroke="#fff" stroke-width="0.9" opacity="0.55"/>
</g>
<rect x="16.4" y="424.5" width="132.2" height="8.8" fill="none" stroke="#5a5a5a" stroke-width="0.7"/>
<line x1="16.2" y1="424.5" x2="148.8" y2="424.5" stroke="#333" stroke-width="0.35" stroke-linecap="butt"/>
<line x1="16.2" y1="433.3" x2="148.8" y2="433.3" stroke="#333" stroke-width="0.35" stroke-linecap="butt"/>
<clipPath id="cd5"><rect x="16.4" y="440.4" width="132.2" height="8.8"/></clipPath>
<g clip-path="url(#cd5)">
<rect x="16.4" y="440.4" width="132.2" height="8.8" fill="#f0f0f0" />
<g filter="url(#bl)">
<rect x="18.35" y="442.8" width="10.9" height="2.2" rx="1.1" fill="#000" opacity="1"/>
<rect x="33.95" y="443.59" width="10.9" height="2.42" rx="1.21" fill="#000" opacity="1"/>
<rect x="50.4" y="443.89" width="11.4" height="2.42" rx="1.21" fill="#000" opacity="1"/>
<rect x="67.6" y="443.89" width="11.4" height="2.42" rx="1.21" fill="#000" opacity="1"/>
<rect x="85.1" y="443.59" width="11.4" height="2.42" rx="1.21" fill="#000" opacity="1"/>
<rect x="102.55" y="443.79" width="10.9" height="2.42" rx="1.21" fill="#000" opacity="1"/>
<rect x="118.7" y="443.88" width="11.4" height="2.64" rx="1.32" fill="#000" opacity="1"/>
<rect x="135.1" y="443.68" width="11.4" height="2.64" rx="1.32" fill="#000" opacity="1"/>
</g>
<rect x="17.3" y="441.3" width="130.4" height="7" fill="none" stroke="#fff" stroke-width="0.9" opacity="0.55"/>
</g>
<rect x="16.4" y="440.4" width="132.2" height="8.8" fill="none" stroke="#5a5a5a" stroke-width="0.7"/>
<line x1="16.2" y1="440.4" x2="148.8" y2="440.4" stroke="#333" stroke-width="0.35" stroke-linecap="butt"/>
<line x1="16.2" y1="449.2" x2="148.8" y2="449.2" stroke="#333" stroke-width="0.35" stroke-linecap="butt"/>
<text x="152.2" y="382.48" font-size="5.5" text-anchor="start" font-weight="normal" fill="#111" stroke="#111" stroke-width="0.05">p-GSK3β</text>
<text x="152.2" y="398.78" font-size="5.5" text-anchor="start" font-weight="normal" fill="#111" stroke="#111" stroke-width="0.05">GSK3β</text>
<text x="152.2" y="414.68" font-size="5.5" text-anchor="start" font-weight="normal" fill="#111" stroke="#111" stroke-width="0.05">Mcl-1</text>
<text x="152.2" y="430.78" font-size="5.5" text-anchor="start" font-weight="normal" fill="#111" stroke="#111" stroke-width="0.05">c-Myc</text>
<text x="152.2" y="446.68" font-size="5.5" text-anchor="start" font-weight="normal" fill="#111" stroke="#111" stroke-width="0.05">β-actin</text>
<text x="24" y="457.27" font-size="4.7" text-anchor="middle" fill="#2a2a2a" stroke="#2a2a2a" stroke-width="0.14">-</text>
<text x="39.6" y="457.15" font-size="4.7" text-anchor="middle" fill="#2a2a2a" stroke="#2a2a2a" stroke-width="0.2">+</text>
<text x="56.3" y="457.27" font-size="4.7" text-anchor="middle" fill="#2a2a2a" stroke="#2a2a2a" stroke-width="0.14">-</text>
<text x="73.5" y="457.15" font-size="4.7" text-anchor="middle" fill="#2a2a2a" stroke="#2a2a2a" stroke-width="0.2">+</text>
<text x="91" y="457.27" font-size="4.7" text-anchor="middle" fill="#2a2a2a" stroke="#2a2a2a" stroke-width="0.14">-</text>
<text x="108.2" y="457.15" font-size="4.7" text-anchor="middle" fill="#2a2a2a" stroke="#2a2a2a" stroke-width="0.2">+</text>
<text x="124.6" y="457.27" font-size="4.7" text-anchor="middle" fill="#2a2a2a" stroke="#2a2a2a" stroke-width="0.14">-</text>
<text x="141" y="457.15" font-size="4.7" text-anchor="middle" fill="#2a2a2a" stroke="#2a2a2a" stroke-width="0.2">+</text>
<text x="152.2" y="457.78" font-size="5.5" text-anchor="start" font-weight="normal" fill="#111" stroke="#111" stroke-width="0.05">Duv</text>
<text x="24" y="465.77" font-size="4.7" text-anchor="middle" fill="#2a2a2a" stroke="#2a2a2a" stroke-width="0.14">-</text>
<text x="39.6" y="465.77" font-size="4.7" text-anchor="middle" fill="#2a2a2a" stroke="#2a2a2a" stroke-width="0.14">-</text>
<text x="56.3" y="465.65" font-size="4.7" text-anchor="middle" fill="#2a2a2a" stroke="#2a2a2a" stroke-width="0.2">+</text>
<text x="73.5" y="465.65" font-size="4.7" text-anchor="middle" fill="#2a2a2a" stroke="#2a2a2a" stroke-width="0.2">+</text>
<text x="91" y="465.77" font-size="4.7" text-anchor="middle" fill="#2a2a2a" stroke="#2a2a2a" stroke-width="0.14">-</text>
<text x="108.2" y="465.77" font-size="4.7" text-anchor="middle" fill="#2a2a2a" stroke="#2a2a2a" stroke-width="0.14">-</text>
<text x="124.6" y="465.65" font-size="4.7" text-anchor="middle" fill="#2a2a2a" stroke="#2a2a2a" stroke-width="0.2">+</text>
<text x="141" y="465.65" font-size="4.7" text-anchor="middle" fill="#2a2a2a" stroke="#2a2a2a" stroke-width="0.2">+</text>
<text x="152.2" y="466.28" font-size="5.5" text-anchor="start" font-weight="normal" fill="#111" stroke="#111" stroke-width="0.05">Ven</text>
<text x="24" y="474.47" font-size="4.7" text-anchor="middle" fill="#2a2a2a" stroke="#2a2a2a" stroke-width="0.14">-</text>
<text x="39.6" y="474.47" font-size="4.7" text-anchor="middle" fill="#2a2a2a" stroke="#2a2a2a" stroke-width="0.14">-</text>
<text x="56.3" y="474.47" font-size="4.7" text-anchor="middle" fill="#2a2a2a" stroke="#2a2a2a" stroke-width="0.14">-</text>
<text x="73.5" y="474.47" font-size="4.7" text-anchor="middle" fill="#2a2a2a" stroke="#2a2a2a" stroke-width="0.14">-</text>
<text x="91" y="474.35" font-size="4.7" text-anchor="middle" fill="#2a2a2a" stroke="#2a2a2a" stroke-width="0.2">+</text>
<text x="108.2" y="474.35" font-size="4.7" text-anchor="middle" fill="#2a2a2a" stroke="#2a2a2a" stroke-width="0.2">+</text>
<text x="124.6" y="474.35" font-size="4.7" text-anchor="middle" fill="#2a2a2a" stroke="#2a2a2a" stroke-width="0.2">+</text>
<text x="141" y="474.35" font-size="4.7" text-anchor="middle" fill="#2a2a2a" stroke="#2a2a2a" stroke-width="0.2">+</text>
<text x="152.2" y="474.98" font-size="5.5" text-anchor="start" font-weight="normal" fill="#111" stroke="#111" stroke-width="0.05">Tideglusib</text>
<line x1="213.2" y1="439.88" x2="213.2" y2="437.23" stroke="#111" stroke-width="0.85" stroke-linecap="butt"/>
<line x1="210.1" y1="437.23" x2="216.3" y2="437.23" stroke="#111" stroke-width="0.85" stroke-linecap="butt"/>
<rect x="207" y="439.38" width="12.4" height="17.22" fill="#a40a2c" />
<line x1="229.25" y1="432.35" x2="229.25" y2="430.64" stroke="#111" stroke-width="0.85" stroke-linecap="butt"/>
<line x1="226.15" y1="430.64" x2="232.35" y2="430.64" stroke="#111" stroke-width="0.85" stroke-linecap="butt"/>
<rect x="223.2" y="431.85" width="12.1" height="24.75" fill="#2c4a7e" />
<line x1="245.1" y1="434.77" x2="245.1" y2="433.74" stroke="#111" stroke-width="0.85" stroke-linecap="butt"/>
<line x1="242" y1="433.74" x2="248.2" y2="433.74" stroke="#111" stroke-width="0.85" stroke-linecap="butt"/>
<rect x="239" y="434.27" width="12.2" height="22.33" fill="#6aa842" />
<line x1="261.15" y1="414.06" x2="261.15" y2="407.64" stroke="#111" stroke-width="0.85" stroke-linecap="butt"/>
<line x1="258.05" y1="407.64" x2="264.25" y2="407.64" stroke="#111" stroke-width="0.85" stroke-linecap="butt"/>
<rect x="255.2" y="413.56" width="11.9" height="43.04" fill="#4d5467" />
<line x1="205.2" y1="373.5" x2="205.2" y2="457.18" stroke="#000" stroke-width="1.15" stroke-linecap="butt"/>
<line x1="204.62" y1="456.6" x2="270" y2="456.6" stroke="#000" stroke-width="1.15" stroke-linecap="butt"/>
<line x1="202.1" y1="456.6" x2="205.2" y2="456.6" stroke="#000" stroke-width="0.9" stroke-linecap="butt"/>
<text transform="translate(199.7 458.83) scale(0.86 1)" x="0" y="0" font-size="6.2" text-anchor="end" font-weight="normal" fill="#000" stroke="#000" stroke-width="0.16">0</text>
<line x1="202.1" y1="429.7" x2="205.2" y2="429.7" stroke="#000" stroke-width="0.9" stroke-linecap="butt"/>
<text transform="translate(199.7 431.93) scale(0.86 1)" x="0" y="0" font-size="6.2" text-anchor="end" font-weight="normal" fill="#000" stroke="#000" stroke-width="0.16">1.0</text>
<line x1="202.1" y1="402.8" x2="205.2" y2="402.8" stroke="#000" stroke-width="0.9" stroke-linecap="butt"/>
<text transform="translate(199.7 405.03) scale(0.86 1)" x="0" y="0" font-size="6.2" text-anchor="end" font-weight="normal" fill="#000" stroke="#000" stroke-width="0.16">2.0</text>
<line x1="202.1" y1="375.9" x2="205.2" y2="375.9" stroke="#000" stroke-width="0.9" stroke-linecap="butt"/>
<text transform="translate(199.7 378.13) scale(0.86 1)" x="0" y="0" font-size="6.2" text-anchor="end" font-weight="normal" fill="#000" stroke="#000" stroke-width="0.16">3.0</text>
<text transform="translate(185.3 414.3) rotate(-90)" x="0" y="2.81" font-size="7.8" text-anchor="middle" fill="#111" stroke="#111" stroke-width="0.08" textLength="66.5" lengthAdjust="spacingAndGlyphs">p-GSK3β/GSK3β (+/- Tid)</text>
<text x="261.3" y="407.75" font-size="6.5" letter-spacing="0.6" text-anchor="middle" fill="#000" stroke="#000" stroke-width="0.12">*</text>
<text x="213.6" y="464.31" font-size="4.5" text-anchor="middle" fill="#333" stroke="#333" stroke-width="0.1">-</text>
<text x="229.4" y="463.88" font-size="4.5" text-anchor="middle" fill="#333" stroke="#333" stroke-width="0.14">+</text>
<text x="245.3" y="464.31" font-size="4.5" text-anchor="middle" fill="#333" stroke="#333" stroke-width="0.1">-</text>
<text x="261.2" y="463.88" font-size="4.5" text-anchor="middle" fill="#333" stroke="#333" stroke-width="0.14">+</text>
<text x="270" y="464.58" font-size="5.5" text-anchor="start" font-weight="normal" fill="#111" stroke="#111" stroke-width="0.05">Duv</text>
<text x="213.6" y="473.21" font-size="4.5" text-anchor="middle" fill="#333" stroke="#333" stroke-width="0.1">-</text>
<text x="229.4" y="473.21" font-size="4.5" text-anchor="middle" fill="#333" stroke="#333" stroke-width="0.1">-</text>
<text x="245.3" y="472.79" font-size="4.5" text-anchor="middle" fill="#333" stroke="#333" stroke-width="0.14">+</text>
<text x="261.2" y="472.79" font-size="4.5" text-anchor="middle" fill="#333" stroke="#333" stroke-width="0.14">+</text>
<text x="270" y="473.48" font-size="5.5" text-anchor="start" font-weight="normal" fill="#111" stroke="#111" stroke-width="0.05">Ven</text>
<line x1="315.2" y1="426.3" x2="315.2" y2="416.79" stroke="#111" stroke-width="0.85" stroke-linecap="butt"/>
<line x1="312.1" y1="416.79" x2="318.3" y2="416.79" stroke="#111" stroke-width="0.85" stroke-linecap="butt"/>
<rect x="309.1" y="425.8" width="12.2" height="30.8" fill="#a40a2c" />
<line x1="331.1" y1="424.55" x2="331.1" y2="419.75" stroke="#111" stroke-width="0.85" stroke-linecap="butt"/>
<line x1="328" y1="419.75" x2="334.2" y2="419.75" stroke="#111" stroke-width="0.85" stroke-linecap="butt"/>
<rect x="325" y="424.05" width="12.2" height="32.55" fill="#2c4a7e" />
<line x1="347" y1="427.51" x2="347" y2="420.82" stroke="#111" stroke-width="0.85" stroke-linecap="butt"/>
<line x1="343.9" y1="420.82" x2="350.1" y2="420.82" stroke="#111" stroke-width="0.85" stroke-linecap="butt"/>
<rect x="340.9" y="427.01" width="12.2" height="29.59" fill="#6aa842" />
<line x1="362.9" y1="408.95" x2="362.9" y2="400.92" stroke="#111" stroke-width="0.85" stroke-linecap="butt"/>
<line x1="359.8" y1="400.92" x2="366" y2="400.92" stroke="#111" stroke-width="0.85" stroke-linecap="butt"/>
<rect x="356.8" y="408.45" width="12.2" height="48.15" fill="#4d5467" />
<line x1="307" y1="373.5" x2="307" y2="457.18" stroke="#000" stroke-width="1.15" stroke-linecap="butt"/>
<line x1="306.43" y1="456.6" x2="371.3" y2="456.6" stroke="#000" stroke-width="1.15" stroke-linecap="butt"/>
<line x1="303.9" y1="456.6" x2="307" y2="456.6" stroke="#000" stroke-width="0.9" stroke-linecap="butt"/>
<text transform="translate(301.5 458.83) scale(0.86 1)" x="0" y="0" font-size="6.2" text-anchor="end" font-weight="normal" fill="#000" stroke="#000" stroke-width="0.16">0</text>
<line x1="303.9" y1="429.7" x2="307" y2="429.7" stroke="#000" stroke-width="0.9" stroke-linecap="butt"/>
<text transform="translate(301.5 431.93) scale(0.86 1)" x="0" y="0" font-size="6.2" text-anchor="end" font-weight="normal" fill="#000" stroke="#000" stroke-width="0.16">1.0</text>
<line x1="303.9" y1="402.8" x2="307" y2="402.8" stroke="#000" stroke-width="0.9" stroke-linecap="butt"/>
<text transform="translate(301.5 405.03) scale(0.86 1)" x="0" y="0" font-size="6.2" text-anchor="end" font-weight="normal" fill="#000" stroke="#000" stroke-width="0.16">2.0</text>
<line x1="303.9" y1="375.9" x2="307" y2="375.9" stroke="#000" stroke-width="0.9" stroke-linecap="butt"/>
<text transform="translate(301.5 378.13) scale(0.86 1)" x="0" y="0" font-size="6.2" text-anchor="end" font-weight="normal" fill="#000" stroke="#000" stroke-width="0.16">3.0</text>
<text transform="translate(285.8 414.5) rotate(-90)" x="0" y="2.81" font-size="7.8" text-anchor="middle" fill="#111" stroke="#111" stroke-width="0.08" textLength="58.5" lengthAdjust="spacingAndGlyphs">Mcl-1/β-actin (+/- Tid)</text>
<text x="331.4" y="419.75" font-size="6.5" letter-spacing="0.6" text-anchor="middle" fill="#000" stroke="#000" stroke-width="0.12">*</text>
<text x="363.2" y="400.95" font-size="6.5" letter-spacing="0.6" text-anchor="middle" fill="#000" stroke="#000" stroke-width="0.12">*</text>
<text x="315.4" y="464.31" font-size="4.5" text-anchor="middle" fill="#333" stroke="#333" stroke-width="0.1">-</text>
<text x="331.3" y="463.88" font-size="4.5" text-anchor="middle" fill="#333" stroke="#333" stroke-width="0.14">+</text>
<text x="347.2" y="464.31" font-size="4.5" text-anchor="middle" fill="#333" stroke="#333" stroke-width="0.1">-</text>
<text x="363.1" y="463.88" font-size="4.5" text-anchor="middle" fill="#333" stroke="#333" stroke-width="0.14">+</text>
<text x="371.3" y="464.58" font-size="5.5" text-anchor="start" font-weight="normal" fill="#111" stroke="#111" stroke-width="0.05">Duv</text>
<text x="315.4" y="473.21" font-size="4.5" text-anchor="middle" fill="#333" stroke="#333" stroke-width="0.1">-</text>
<text x="331.3" y="473.21" font-size="4.5" text-anchor="middle" fill="#333" stroke="#333" stroke-width="0.1">-</text>
<text x="347.2" y="472.79" font-size="4.5" text-anchor="middle" fill="#333" stroke="#333" stroke-width="0.14">+</text>
<text x="363.1" y="472.79" font-size="4.5" text-anchor="middle" fill="#333" stroke="#333" stroke-width="0.14">+</text>
<text x="371.3" y="473.48" font-size="5.5" text-anchor="start" font-weight="normal" fill="#111" stroke="#111" stroke-width="0.05">Ven</text>
<line x1="417" y1="435.85" x2="417" y2="431.31" stroke="#111" stroke-width="0.85" stroke-linecap="butt"/>
<line x1="413.9" y1="431.31" x2="420.1" y2="431.31" stroke="#111" stroke-width="0.85" stroke-linecap="butt"/>
<rect x="410.9" y="435.35" width="12.2" height="21.25" fill="#a40a2c" />
<line x1="432.9" y1="419.71" x2="432.9" y2="411.41" stroke="#111" stroke-width="0.85" stroke-linecap="butt"/>
<line x1="429.8" y1="411.41" x2="436" y2="411.41" stroke="#111" stroke-width="0.85" stroke-linecap="butt"/>
<rect x="426.8" y="419.21" width="12.2" height="37.39" fill="#2c4a7e" />
<line x1="448.8" y1="431.81" x2="448.8" y2="429.7" stroke="#111" stroke-width="0.85" stroke-linecap="butt"/>
<line x1="445.7" y1="429.7" x2="451.9" y2="429.7" stroke="#111" stroke-width="0.85" stroke-linecap="butt"/>
<rect x="442.7" y="431.31" width="12.2" height="25.29" fill="#6aa842" />
<line x1="464.7" y1="398.19" x2="464.7" y2="392.58" stroke="#111" stroke-width="0.85" stroke-linecap="butt"/>
<line x1="461.6" y1="392.58" x2="467.8" y2="392.58" stroke="#111" stroke-width="0.85" stroke-linecap="butt"/>
<rect x="458.6" y="397.69" width="12.2" height="58.91" fill="#4d5467" />
<line x1="408.8" y1="373.5" x2="408.8" y2="457.18" stroke="#000" stroke-width="1.15" stroke-linecap="butt"/>
<line x1="408.23" y1="456.6" x2="473.4" y2="456.6" stroke="#000" stroke-width="1.15" stroke-linecap="butt"/>
<line x1="405.7" y1="456.6" x2="408.8" y2="456.6" stroke="#000" stroke-width="0.9" stroke-linecap="butt"/>
<text transform="translate(403.3 458.83) scale(0.86 1)" x="0" y="0" font-size="6.2" text-anchor="end" font-weight="normal" fill="#000" stroke="#000" stroke-width="0.16">0</text>
<line x1="405.7" y1="429.7" x2="408.8" y2="429.7" stroke="#000" stroke-width="0.9" stroke-linecap="butt"/>
<text transform="translate(403.3 431.93) scale(0.86 1)" x="0" y="0" font-size="6.2" text-anchor="end" font-weight="normal" fill="#000" stroke="#000" stroke-width="0.16">1.0</text>
<line x1="405.7" y1="402.8" x2="408.8" y2="402.8" stroke="#000" stroke-width="0.9" stroke-linecap="butt"/>
<text transform="translate(403.3 405.03) scale(0.86 1)" x="0" y="0" font-size="6.2" text-anchor="end" font-weight="normal" fill="#000" stroke="#000" stroke-width="0.16">2.0</text>
<line x1="405.7" y1="375.9" x2="408.8" y2="375.9" stroke="#000" stroke-width="0.9" stroke-linecap="butt"/>
<text transform="translate(403.3 378.13) scale(0.86 1)" x="0" y="0" font-size="6.2" text-anchor="end" font-weight="normal" fill="#000" stroke="#000" stroke-width="0.16">3.0</text>
<text transform="translate(389.3 414.5) rotate(-90)" x="0" y="2.81" font-size="7.8" text-anchor="middle" fill="#111" stroke="#111" stroke-width="0.08" textLength="58.5" lengthAdjust="spacingAndGlyphs">c-Myc/β-actin (+/- Tid)</text>
<text x="433.2" y="411.55" font-size="6.5" letter-spacing="0.6" text-anchor="middle" fill="#000" stroke="#000" stroke-width="0.12">*</text>
<text x="465" y="392.45" font-size="6.5" letter-spacing="0.6" text-anchor="middle" fill="#000" stroke="#000" stroke-width="0.12">***</text>
<text x="417.2" y="464.31" font-size="4.5" text-anchor="middle" fill="#333" stroke="#333" stroke-width="0.1">-</text>
<text x="433.1" y="463.88" font-size="4.5" text-anchor="middle" fill="#333" stroke="#333" stroke-width="0.14">+</text>
<text x="449" y="464.31" font-size="4.5" text-anchor="middle" fill="#333" stroke="#333" stroke-width="0.1">-</text>
<text x="464.9" y="463.88" font-size="4.5" text-anchor="middle" fill="#333" stroke="#333" stroke-width="0.14">+</text>
<text x="473.4" y="464.58" font-size="5.5" text-anchor="start" font-weight="normal" fill="#111" stroke="#111" stroke-width="0.05">Duv</text>
<text x="417.2" y="473.21" font-size="4.5" text-anchor="middle" fill="#333" stroke="#333" stroke-width="0.1">-</text>
<text x="433.1" y="473.21" font-size="4.5" text-anchor="middle" fill="#333" stroke="#333" stroke-width="0.1">-</text>
<text x="449" y="472.79" font-size="4.5" text-anchor="middle" fill="#333" stroke="#333" stroke-width="0.14">+</text>
<text x="464.9" y="472.79" font-size="4.5" text-anchor="middle" fill="#333" stroke="#333" stroke-width="0.14">+</text>
<text x="473.4" y="473.48" font-size="5.5" text-anchor="start" font-weight="normal" fill="#111" stroke="#111" stroke-width="0.05">Ven</text>
</g>
<rect x="0.5" y="0.5" width="519" height="482" fill="none" stroke="#000" stroke-width="1"/>
</svg>
</body></html>
